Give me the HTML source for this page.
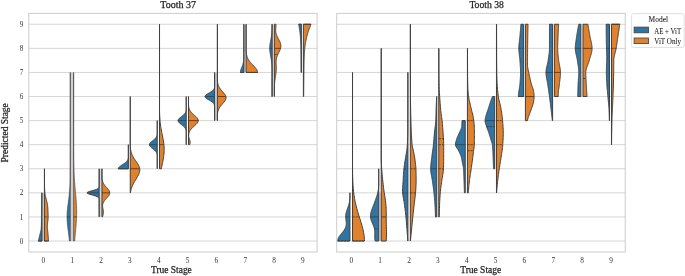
<!DOCTYPE html>
<html><head><meta charset="utf-8"><style>
html,body{margin:0;padding:0;background:#fff;width:685px;height:276px;overflow:hidden}
svg{display:block;will-change:transform}
text{font-family:"Liberation Serif",serif}
</style></head><body>
<svg width="685" height="276" viewBox="0 0 685 276" font-family="Liberation Serif, serif">
<rect width="685" height="276" fill="#fff"/>
<line x1="28.8" y1="241" x2="317.1" y2="241" stroke="#cccccc" stroke-width="0.8"/>
<line x1="28.8" y1="216.92" x2="317.1" y2="216.92" stroke="#cccccc" stroke-width="0.8"/>
<line x1="28.8" y1="192.84" x2="317.1" y2="192.84" stroke="#cccccc" stroke-width="0.8"/>
<line x1="28.8" y1="168.76" x2="317.1" y2="168.76" stroke="#cccccc" stroke-width="0.8"/>
<line x1="28.8" y1="144.68" x2="317.1" y2="144.68" stroke="#cccccc" stroke-width="0.8"/>
<line x1="28.8" y1="120.6" x2="317.1" y2="120.6" stroke="#cccccc" stroke-width="0.8"/>
<line x1="28.8" y1="96.52" x2="317.1" y2="96.52" stroke="#cccccc" stroke-width="0.8"/>
<line x1="28.8" y1="72.44" x2="317.1" y2="72.44" stroke="#cccccc" stroke-width="0.8"/>
<line x1="28.8" y1="48.36" x2="317.1" y2="48.36" stroke="#cccccc" stroke-width="0.8"/>
<line x1="28.8" y1="24.28" x2="317.1" y2="24.28" stroke="#cccccc" stroke-width="0.8"/>
<line x1="336.7" y1="241" x2="625.2" y2="241" stroke="#cccccc" stroke-width="0.8"/>
<line x1="336.7" y1="216.92" x2="625.2" y2="216.92" stroke="#cccccc" stroke-width="0.8"/>
<line x1="336.7" y1="192.84" x2="625.2" y2="192.84" stroke="#cccccc" stroke-width="0.8"/>
<line x1="336.7" y1="168.76" x2="625.2" y2="168.76" stroke="#cccccc" stroke-width="0.8"/>
<line x1="336.7" y1="144.68" x2="625.2" y2="144.68" stroke="#cccccc" stroke-width="0.8"/>
<line x1="336.7" y1="120.6" x2="625.2" y2="120.6" stroke="#cccccc" stroke-width="0.8"/>
<line x1="336.7" y1="96.52" x2="625.2" y2="96.52" stroke="#cccccc" stroke-width="0.8"/>
<line x1="336.7" y1="72.44" x2="625.2" y2="72.44" stroke="#cccccc" stroke-width="0.8"/>
<line x1="336.7" y1="48.36" x2="625.2" y2="48.36" stroke="#cccccc" stroke-width="0.8"/>
<line x1="336.7" y1="24.28" x2="625.2" y2="24.28" stroke="#cccccc" stroke-width="0.8"/>
<rect x="42.02" y="192.84" width="2.4" height="48.16" fill="#d6d6d6"/>
<rect x="70.3" y="72.44" width="3.3" height="168.56" fill="#d0d0d0"/>
<rect x="99.17" y="168.76" width="2.8" height="48.16" fill="#d8d8d8"/>
<rect x="214.6" y="72.44" width="2.8" height="48.16" fill="#d2d2d2"/>
<rect x="243.93" y="24.28" width="2.2" height="48.16" fill="#dadada"/>
<rect x="272.16" y="24.28" width="2.2" height="72.24" fill="#e4e4e4"/>
<rect x="378.73" y="192.84" width="2.5" height="48.16" fill="#d6d6d6"/>
<path d="M38.31 241 L38.42 240.6 L38.53 240.19 L38.63 239.79 L38.74 239.38 L38.84 238.98 L38.94 238.57 L39.05 238.17 L39.15 237.76 L39.25 237.36 L39.35 236.95 L39.45 236.55 L39.55 236.14 L39.65 235.74 L39.75 235.33 L39.84 234.93 L39.94 234.52 L40.04 234.12 L40.13 233.72 L40.23 233.31 L40.32 232.91 L40.42 232.5 L40.51 232.1 L40.61 231.69 L40.72 231.29 L40.83 230.88 L40.94 230.48 L41.04 230.07 L41.12 229.67 L41.18 229.26 L41.22 228.86 L41.25 228.45 L41.28 228.05 L41.3 227.64 L41.32 227.24 L41.34 226.84 L41.36 226.43 L41.37 226.03 L41.39 225.62 L41.4 225.22 L41.4 224.81 L41.41 224.41 L41.42 224 L41.42 223.6 L41.42 223.19 L41.43 222.79 L41.43 222.38 L41.44 221.98 L41.44 221.57 L41.44 221.17 L41.44 220.76 L41.45 220.36 L41.45 219.96 L41.45 219.55 L41.45 219.15 L41.46 218.74 L41.46 218.34 L41.46 217.93 L41.46 217.53 L41.46 217.12 L41.46 216.72 L41.46 216.31 L41.47 215.91 L41.47 215.5 L41.47 215.1 L41.47 214.69 L41.47 214.29 L41.47 213.88 L41.47 213.48 L41.47 213.08 L41.48 212.67 L41.48 212.27 L41.48 211.86 L41.48 211.46 L41.48 211.05 L41.48 210.65 L41.48 210.24 L41.48 209.84 L41.49 209.43 L41.49 209.03 L41.49 208.62 L41.49 208.22 L41.49 207.81 L41.5 207.41 L41.5 207 L41.5 206.6 L41.5 206.2 L41.51 205.79 L41.51 205.39 L41.51 204.98 L41.52 204.58 L41.52 204.17 L41.53 203.77 L41.53 203.36 L41.54 202.96 L41.54 202.55 L41.55 202.15 L41.56 201.74 L41.56 201.34 L41.57 200.93 L41.58 200.53 L41.59 200.12 L41.6 199.72 L41.61 199.32 L41.62 198.91 L41.63 198.51 L41.64 198.1 L41.65 197.7 L41.66 197.29 L41.67 196.89 L41.68 196.48 L41.69 196.08 L41.7 195.67 L41.71 195.27 L41.73 194.86 L41.74 194.46 L41.76 194.05 L41.78 193.65 L41.8 193.24 L41.81 192.84 L42.02 192.84 L42.02 241Z" fill="#3274a1" stroke="#3f3f3f" stroke-width="1.0" stroke-linejoin="round"/>
<line x1="38.31" y1="241" x2="42.02" y2="241" stroke="#3f3f3f" stroke-width="0.9"/>
<path d="M48.52 241 L48.47 240.39 L48.43 239.79 L48.39 239.18 L48.35 238.57 L48.3 237.96 L48.25 237.36 L48.21 236.75 L48.16 236.14 L48.11 235.54 L48.06 234.93 L48.01 234.32 L47.96 233.72 L47.9 233.11 L47.85 232.5 L47.8 231.89 L47.73 231.29 L47.66 230.68 L47.58 230.07 L47.5 229.47 L47.43 228.86 L47.37 228.25 L47.33 227.64 L47.32 227.04 L47.32 226.43 L47.35 225.82 L47.38 225.22 L47.43 224.61 L47.49 224 L47.55 223.4 L47.62 222.79 L47.69 222.18 L47.76 221.57 L47.83 220.97 L47.9 220.36 L47.96 219.75 L48.02 219.15 L48.06 218.54 L48.09 217.93 L48.11 217.32 L48.11 216.72 L48.11 216.11 L48.1 215.5 L48.09 214.9 L48.08 214.29 L48.06 213.68 L48.05 213.08 L48.03 212.47 L48 211.86 L47.98 211.25 L47.96 210.65 L47.93 210.04 L47.9 209.43 L47.87 208.83 L47.83 208.22 L47.79 207.61 L47.74 207 L47.68 206.4 L47.62 205.79 L47.55 205.18 L47.47 204.58 L47.37 203.97 L47.24 203.36 L47.1 202.76 L46.94 202.15 L46.78 201.54 L46.62 200.93 L46.47 200.33 L46.34 199.72 L46.2 199.11 L46.05 198.51 L45.9 197.9 L45.75 197.29 L45.6 196.68 L45.46 196.08 L45.33 195.47 L45.2 194.86 L45.1 194.26 L45.01 193.65 L44.93 193.04 L44.88 192.44 L44.83 191.83 L44.78 191.22 L44.73 190.61 L44.69 190.01 L44.65 189.4 L44.62 188.79 L44.59 188.19 L44.56 187.58 L44.54 186.97 L44.52 186.36 L44.52 185.76 L44.51 185.15 L44.51 184.54 L44.5 183.94 L44.5 183.33 L44.5 182.72 L44.5 182.12 L44.49 181.51 L44.49 180.9 L44.49 180.29 L44.48 179.69 L44.48 179.08 L44.48 178.47 L44.48 177.87 L44.48 177.26 L44.48 176.65 L44.47 176.04 L44.47 175.44 L44.47 174.83 L44.47 174.22 L44.47 173.62 L44.47 173.01 L44.47 172.4 L44.47 171.8 L44.47 171.19 L44.47 170.58 L44.47 169.97 L44.47 169.37 L44.46 168.76 L44.42 168.76 L44.42 241Z" fill="#e1812c" stroke="#3f3f3f" stroke-width="1.0" stroke-linejoin="round"/>
<line x1="44.42" y1="241" x2="48.52" y2="241" stroke="#3f3f3f" stroke-width="0.9" stroke-dasharray="2.2 0.9"/>
<line x1="44.42" y1="216.92" x2="48.11" y2="216.92" stroke="#3f3f3f" stroke-width="0.9" stroke-dasharray="2.2 0.9"/>
<path d="M69.45 241 L69.31 239.58 L69.16 238.17 L69 236.75 L68.82 235.33 L68.64 233.92 L68.46 232.5 L68.27 231.08 L68.08 229.67 L67.89 228.25 L67.72 226.84 L67.55 225.42 L67.41 224 L67.28 222.59 L67.18 221.17 L67.11 219.75 L67.06 218.34 L67.05 216.92 L67.06 215.5 L67.11 214.09 L67.18 212.67 L67.28 211.25 L67.41 209.84 L67.55 208.42 L67.72 207 L67.89 205.59 L68.08 204.17 L68.27 202.76 L68.46 201.34 L68.64 199.92 L68.82 198.51 L69 197.09 L69.16 195.67 L69.31 194.26 L69.45 192.84 L69.57 191.42 L69.68 190.01 L69.78 188.59 L69.86 187.17 L69.93 185.76 L69.99 184.34 L70.04 182.92 L70.09 181.51 L70.12 180.09 L70.15 178.68 L70.17 177.26 L70.19 175.84 L70.2 174.43 L70.21 173.01 L70.22 171.59 L70.23 170.18 L70.23 168.76 L70.24 167.34 L70.24 165.93 L70.24 164.51 L70.24 163.09 L70.24 161.68 L70.24 160.26 L70.24 158.84 L70.24 157.43 L70.24 156.01 L70.24 154.6 L70.24 153.18 L70.24 151.76 L70.24 150.35 L70.24 148.93 L70.24 147.51 L70.24 146.1 L70.24 144.68 L70.24 143.26 L70.24 141.85 L70.24 140.43 L70.24 139.01 L70.24 137.6 L70.24 136.18 L70.24 134.76 L70.24 133.35 L70.24 131.93 L70.24 130.52 L70.24 129.1 L70.24 127.68 L70.24 126.27 L70.24 124.85 L70.24 123.43 L70.24 122.02 L70.24 120.6 L70.24 119.18 L70.24 117.77 L70.24 116.35 L70.24 114.93 L70.24 113.52 L70.24 112.1 L70.24 110.68 L70.24 109.27 L70.24 107.85 L70.24 106.44 L70.24 105.02 L70.24 103.6 L70.24 102.19 L70.24 100.77 L70.24 99.35 L70.25 97.94 L70.25 96.52 L70.25 95.1 L70.25 93.69 L70.25 92.27 L70.25 90.85 L70.25 89.44 L70.25 88.02 L70.25 86.6 L70.25 85.19 L70.25 83.77 L70.25 82.36 L70.25 80.94 L70.25 79.52 L70.25 78.11 L70.25 76.69 L70.25 75.27 L70.25 73.86 L70.25 72.44 L70.3 72.44 L70.3 241Z" fill="#3274a1" stroke="#3f3f3f" stroke-width="0.65" stroke-linejoin="round"/>
<line x1="67.05" y1="216.92" x2="70.3" y2="216.92" stroke="#3f3f3f" stroke-width="0.9"/>
<path d="M74.67 241 L74.78 239.58 L74.9 238.17 L75.02 236.75 L75.15 235.33 L75.27 233.92 L75.4 232.5 L75.54 231.08 L75.66 229.67 L75.79 228.25 L75.92 226.84 L76.03 225.42 L76.15 224 L76.25 222.59 L76.34 221.17 L76.43 219.75 L76.5 218.34 L76.56 216.92 L76.6 215.5 L76.63 214.09 L76.64 212.67 L76.64 211.25 L76.63 209.84 L76.59 208.42 L76.55 207 L76.49 205.59 L76.41 204.17 L76.33 202.76 L76.23 201.34 L76.13 199.92 L76.01 198.51 L75.89 197.09 L75.77 195.67 L75.64 194.26 L75.51 192.84 L75.38 191.42 L75.25 190.01 L75.12 188.59 L75 187.17 L74.88 185.76 L74.76 184.34 L74.65 182.92 L74.55 181.51 L74.45 180.09 L74.36 178.68 L74.28 177.26 L74.2 175.84 L74.13 174.43 L74.07 173.01 L74.01 171.59 L73.96 170.18 L73.91 168.76 L73.87 167.34 L73.84 165.93 L73.81 164.51 L73.78 163.09 L73.76 161.68 L73.74 160.26 L73.72 158.84 L73.71 157.43 L73.7 156.01 L73.69 154.6 L73.68 153.18 L73.67 151.76 L73.67 150.35 L73.66 148.93 L73.66 147.51 L73.66 146.1 L73.65 144.68 L73.65 143.26 L73.65 141.85 L73.65 140.43 L73.65 139.01 L73.65 137.6 L73.65 136.18 L73.65 134.76 L73.65 133.35 L73.65 131.93 L73.65 130.52 L73.65 129.1 L73.65 127.68 L73.65 126.27 L73.65 124.85 L73.65 123.43 L73.65 122.02 L73.65 120.6 L73.65 119.18 L73.65 117.77 L73.65 116.35 L73.65 114.93 L73.65 113.52 L73.65 112.1 L73.65 110.68 L73.65 109.27 L73.65 107.85 L73.65 106.44 L73.65 105.02 L73.65 103.6 L73.65 102.19 L73.65 100.77 L73.65 99.35 L73.65 97.94 L73.65 96.52 L73.65 95.1 L73.65 93.69 L73.65 92.27 L73.65 90.85 L73.65 89.44 L73.65 88.02 L73.65 86.6 L73.65 85.19 L73.65 83.77 L73.65 82.36 L73.65 80.94 L73.65 79.52 L73.65 78.11 L73.65 76.69 L73.65 75.27 L73.65 73.86 L73.65 72.44 L73.59 72.44 L73.59 241Z" fill="#e1812c" stroke="#3f3f3f" stroke-width="0.65" stroke-linejoin="round"/>
<line x1="73.59" y1="216.92" x2="76.56" y2="216.92" stroke="#3f3f3f" stroke-width="0.9"/>
<path d="M99.17 216.92 L99.17 216.52 L99.17 216.11 L99.17 215.71 L99.17 215.3 L99.17 214.9 L99.17 214.49 L99.17 214.09 L99.17 213.68 L99.17 213.28 L99.17 212.87 L99.17 212.47 L99.17 212.06 L99.17 211.66 L99.17 211.25 L99.17 210.85 L99.17 210.44 L99.17 210.04 L99.17 209.64 L99.17 209.23 L99.17 208.83 L99.17 208.42 L99.17 208.02 L99.17 207.61 L99.17 207.21 L99.17 206.8 L99.17 206.4 L99.17 205.99 L99.17 205.59 L99.17 205.18 L99.17 204.78 L99.17 204.37 L99.17 203.97 L99.17 203.56 L99.17 203.16 L99.17 202.76 L99.17 202.35 L99.17 201.95 L99.17 201.54 L99.17 201.14 L99.17 200.73 L99.17 200.33 L99.17 199.92 L99.17 199.52 L99.17 199.11 L99.12 198.71 L98.98 198.3 L98.75 197.9 L98.4 197.49 L97.9 197.09 L97.22 196.68 L96.33 196.28 L95.23 195.88 L93.94 195.47 L92.52 195.07 L91.05 194.66 L89.64 194.26 L88.44 193.85 L87.55 193.45 L87.08 193.04 L87.08 192.64 L87.55 192.23 L88.44 191.83 L89.64 191.42 L91.05 191.02 L92.52 190.61 L93.94 190.21 L95.23 189.8 L96.33 189.4 L97.22 189 L97.9 188.59 L98.4 188.19 L98.75 187.78 L98.98 187.38 L99.12 186.97 L99.17 186.57 L99.17 186.16 L99.17 185.76 L99.17 185.35 L99.17 184.95 L99.17 184.54 L99.17 184.14 L99.17 183.73 L99.17 183.33 L99.17 182.92 L99.17 182.52 L99.17 182.12 L99.17 181.71 L99.17 181.31 L99.17 180.9 L99.17 180.5 L99.17 180.09 L99.17 179.69 L99.17 179.28 L99.17 178.88 L99.17 178.47 L99.17 178.07 L99.17 177.66 L99.17 177.26 L99.17 176.85 L99.17 176.45 L99.17 176.04 L99.17 175.64 L99.17 175.24 L99.17 174.83 L99.17 174.43 L99.17 174.02 L99.17 173.62 L99.17 173.21 L99.17 172.81 L99.17 172.4 L99.17 172 L99.17 171.59 L99.17 171.19 L99.17 170.78 L99.17 170.38 L99.17 169.97 L99.17 169.57 L99.17 169.16 L99.17 168.76 L99.17 168.76 L99.17 216.92Z" fill="#3274a1" stroke="#3f3f3f" stroke-width="1.0" stroke-linejoin="round"/>
<line x1="87.08" y1="192.84" x2="99.17" y2="192.84" stroke="#3f3f3f" stroke-width="0.9"/>
<path d="M102.48 216.92 L102.58 216.52 L102.69 216.11 L102.8 215.71 L102.91 215.3 L103.01 214.9 L103.11 214.49 L103.2 214.09 L103.28 213.68 L103.35 213.28 L103.4 212.87 L103.43 212.47 L103.44 212.06 L103.43 211.66 L103.4 211.25 L103.36 210.85 L103.3 210.44 L103.22 210.04 L103.14 209.64 L103.06 209.23 L102.97 208.83 L102.88 208.42 L102.8 208.02 L102.73 207.61 L102.66 207.21 L102.61 206.8 L102.58 206.4 L102.57 205.99 L102.58 205.59 L102.6 205.18 L102.65 204.78 L102.73 204.37 L102.82 203.97 L102.94 203.56 L103.08 203.16 L103.25 202.76 L103.44 202.35 L103.66 201.95 L103.9 201.54 L104.16 201.14 L104.44 200.73 L104.74 200.33 L105.06 199.92 L105.4 199.52 L105.75 199.11 L106.1 198.71 L106.47 198.3 L106.83 197.9 L107.2 197.49 L107.55 197.09 L107.9 196.68 L108.22 196.28 L108.53 195.88 L108.81 195.47 L109.06 195.07 L109.27 194.66 L109.45 194.26 L109.58 193.85 L109.67 193.45 L109.72 193.04 L109.72 192.64 L109.67 192.23 L109.58 191.83 L109.45 191.42 L109.27 191.02 L109.06 190.61 L108.81 190.21 L108.53 189.8 L108.22 189.4 L107.9 189 L107.55 188.59 L107.2 188.19 L106.83 187.78 L106.47 187.38 L106.1 186.97 L105.74 186.57 L105.39 186.16 L105.06 185.76 L104.74 185.35 L104.43 184.95 L104.14 184.54 L103.88 184.14 L103.63 183.73 L103.4 183.33 L103.2 182.92 L103.01 182.52 L102.84 182.12 L102.69 181.71 L102.56 181.31 L102.45 180.9 L102.35 180.5 L102.26 180.09 L102.19 179.69 L102.12 179.28 L102.07 178.88 L102.02 178.47 L101.99 178.07 L101.97 177.66 L101.97 177.26 L101.97 176.85 L101.97 176.45 L101.97 176.04 L101.97 175.64 L101.97 175.24 L101.97 174.83 L101.97 174.43 L101.97 174.02 L101.97 173.62 L101.97 173.21 L101.97 172.81 L101.97 172.4 L101.97 172 L101.97 171.59 L101.97 171.19 L101.97 170.78 L101.97 170.38 L101.97 169.97 L101.97 169.57 L101.97 169.16 L101.97 168.76 L101.97 168.76 L101.97 216.92Z" fill="#e1812c" stroke="#3f3f3f" stroke-width="1.0" stroke-linejoin="round"/>
<line x1="101.97" y1="192.84" x2="109.72" y2="192.84" stroke="#3f3f3f" stroke-width="0.9"/>
<path d="M118.25 168.76 L118.27 168.56 L118.31 168.36 L118.37 168.15 L118.47 167.95 L118.58 167.75 L118.72 167.55 L118.89 167.34 L119.08 167.14 L119.28 166.94 L119.51 166.74 L119.75 166.53 L120.01 166.33 L120.28 166.13 L120.57 165.93 L120.86 165.72 L121.16 165.52 L121.47 165.32 L121.79 165.12 L122.11 164.92 L122.42 164.71 L122.74 164.51 L123.06 164.31 L123.37 164.11 L123.68 163.9 L123.98 163.7 L124.27 163.5 L124.55 163.3 L124.83 163.09 L125.09 162.89 L125.35 162.69 L125.59 162.49 L125.83 162.28 L126.05 162.08 L126.25 161.88 L126.45 161.68 L126.64 161.48 L126.81 161.27 L126.97 161.07 L127.12 160.87 L127.26 160.67 L127.39 160.46 L127.51 160.26 L127.62 160.06 L127.72 159.86 L127.81 159.65 L127.89 159.45 L127.97 159.25 L128.04 159.05 L128.1 158.84 L128.15 158.64 L128.2 158.44 L128.25 158.24 L128.29 158.04 L128.32 157.83 L128.35 157.63 L128.36 157.43 L128.36 157.23 L128.36 157.02 L128.36 156.82 L128.36 156.62 L128.36 156.42 L128.36 156.21 L128.36 156.01 L128.36 155.81 L128.36 155.61 L128.36 155.4 L128.36 155.2 L128.36 155 L128.36 154.8 L128.36 154.6 L128.36 154.39 L128.36 154.19 L128.36 153.99 L128.36 153.79 L128.36 153.58 L128.36 153.38 L128.36 153.18 L128.36 152.98 L128.36 152.77 L128.36 152.57 L128.36 152.37 L128.36 152.17 L128.36 151.96 L128.36 151.76 L128.36 151.56 L128.36 151.36 L128.36 151.16 L128.36 150.95 L128.36 150.75 L128.36 150.55 L128.36 150.35 L128.36 150.14 L128.36 149.94 L128.36 149.74 L128.36 149.54 L128.36 149.33 L128.36 149.13 L128.36 148.93 L128.36 148.73 L128.36 148.52 L128.36 148.32 L128.36 148.12 L128.36 147.92 L128.36 147.72 L128.36 147.51 L128.36 147.31 L128.36 147.11 L128.36 146.91 L128.36 146.7 L128.36 146.5 L128.36 146.3 L128.36 146.1 L128.36 145.89 L128.36 145.69 L128.36 145.49 L128.36 145.29 L128.36 145.08 L128.36 144.88 L128.36 144.68 L128.36 144.68 L128.36 168.76Z" fill="#3274a1" stroke="#3f3f3f" stroke-width="1.0" stroke-linejoin="round"/>
<line x1="118.25" y1="168.76" x2="128.36" y2="168.76" stroke="#3f3f3f" stroke-width="0.9"/>
<path d="M130.46 192.84 L130.56 192.03 L130.7 191.22 L130.86 190.41 L131.05 189.6 L131.27 188.79 L131.53 187.98 L131.82 187.17 L132.14 186.36 L132.49 185.56 L132.88 184.75 L133.29 183.94 L133.73 183.13 L134.18 182.32 L134.65 181.51 L135.14 180.7 L135.62 179.89 L136.11 179.08 L136.6 178.27 L137.07 177.46 L137.53 176.65 L137.97 175.84 L138.37 175.03 L138.74 174.22 L139.07 173.41 L139.34 172.6 L139.55 171.8 L139.69 170.99 L139.76 170.18 L139.75 169.37 L139.66 168.56 L139.49 167.75 L139.25 166.94 L138.93 166.13 L138.54 165.32 L138.1 164.51 L137.61 163.7 L137.08 162.89 L136.53 162.08 L135.97 161.27 L135.4 160.46 L134.84 159.65 L134.3 158.84 L133.79 158.04 L133.31 157.23 L132.86 156.42 L132.45 155.61 L132.09 154.8 L131.76 153.99 L131.48 153.18 L131.23 152.37 L131.02 151.56 L130.84 150.75 L130.69 149.94 L130.57 149.13 L130.46 148.32 L130.38 147.51 L130.32 146.7 L130.27 145.89 L130.26 145.08 L130.26 144.28 L130.26 143.47 L130.26 142.66 L130.26 141.85 L130.26 141.04 L130.26 140.23 L130.26 139.42 L130.26 138.61 L130.26 137.8 L130.26 136.99 L130.26 136.18 L130.26 135.37 L130.26 134.56 L130.26 133.75 L130.26 132.94 L130.26 132.13 L130.26 131.32 L130.26 130.52 L130.26 129.71 L130.26 128.9 L130.26 128.09 L130.26 127.28 L130.26 126.47 L130.26 125.66 L130.26 124.85 L130.26 124.04 L130.26 123.23 L130.26 122.42 L130.26 121.61 L130.26 120.8 L130.26 119.99 L130.26 119.18 L130.26 118.37 L130.26 117.56 L130.26 116.76 L130.26 115.95 L130.26 115.14 L130.26 114.33 L130.26 113.52 L130.26 112.71 L130.26 111.9 L130.26 111.09 L130.26 110.28 L130.26 109.47 L130.26 108.66 L130.26 107.85 L130.26 107.04 L130.26 106.23 L130.26 105.42 L130.26 104.61 L130.26 103.8 L130.26 103 L130.26 102.19 L130.26 101.38 L130.26 100.57 L130.26 99.76 L130.26 98.95 L130.26 98.14 L130.26 97.33 L130.26 96.52 L130.26 96.52 L130.26 192.84Z" fill="#e1812c" stroke="#3f3f3f" stroke-width="1.0" stroke-linejoin="round"/>
<line x1="130.26" y1="168.76" x2="139.68" y2="168.76" stroke="#3f3f3f" stroke-width="0.9"/>
<path d="M157.24 168.76 L157.24 168.36 L157.24 167.95 L157.24 167.55 L157.24 167.14 L157.24 166.74 L157.24 166.33 L157.24 165.93 L157.24 165.52 L157.24 165.12 L157.24 164.71 L157.24 164.31 L157.24 163.9 L157.24 163.5 L157.24 163.09 L157.24 162.69 L157.24 162.28 L157.24 161.88 L157.24 161.48 L157.24 161.07 L157.24 160.67 L157.24 160.26 L157.24 159.86 L157.24 159.45 L157.24 159.05 L157.24 158.64 L157.24 158.24 L157.24 157.83 L157.24 157.43 L157.24 157.02 L157.24 156.62 L157.24 156.21 L157.24 155.81 L157.24 155.4 L157.21 155 L157.14 154.6 L157.05 154.19 L156.95 153.79 L156.81 153.38 L156.65 152.98 L156.45 152.57 L156.22 152.17 L155.96 151.76 L155.65 151.36 L155.31 150.95 L154.93 150.55 L154.51 150.14 L154.06 149.74 L153.58 149.33 L153.08 148.93 L152.57 148.52 L152.06 148.12 L151.57 147.72 L151.1 147.31 L150.66 146.91 L150.28 146.5 L149.96 146.1 L149.71 145.69 L149.53 145.29 L149.45 144.88 L149.45 144.48 L149.53 144.07 L149.71 143.67 L149.96 143.26 L150.28 142.86 L150.66 142.45 L151.1 142.05 L151.57 141.64 L152.06 141.24 L152.57 140.84 L153.08 140.43 L153.58 140.03 L154.06 139.62 L154.51 139.22 L154.93 138.81 L155.31 138.41 L155.65 138 L155.96 137.6 L156.22 137.19 L156.45 136.79 L156.65 136.38 L156.81 135.98 L156.95 135.57 L157.05 135.17 L157.14 134.76 L157.21 134.36 L157.24 133.96 L157.24 133.55 L157.24 133.15 L157.24 132.74 L157.24 132.34 L157.24 131.93 L157.24 131.53 L157.24 131.12 L157.24 130.72 L157.24 130.31 L157.24 129.91 L157.24 129.5 L157.24 129.1 L157.24 128.69 L157.24 128.29 L157.24 127.88 L157.24 127.48 L157.24 127.08 L157.24 126.67 L157.24 126.27 L157.24 125.86 L157.24 125.46 L157.24 125.05 L157.24 124.65 L157.24 124.24 L157.24 123.84 L157.24 123.43 L157.24 123.03 L157.24 122.62 L157.24 122.22 L157.24 121.81 L157.24 121.41 L157.24 121 L157.24 120.6 L157.24 120.6 L157.24 168.76Z" fill="#3274a1" stroke="#3f3f3f" stroke-width="1.0" stroke-linejoin="round"/>
<line x1="149.45" y1="144.68" x2="157.24" y2="144.68" stroke="#3f3f3f" stroke-width="0.9"/>
<path d="M161.36 168.76 L161.58 167.55 L161.82 166.33 L162.06 165.12 L162.3 163.9 L162.55 162.69 L162.79 161.48 L163.02 160.26 L163.24 159.05 L163.45 157.83 L163.64 156.62 L163.8 155.4 L163.94 154.19 L164.05 152.98 L164.13 151.76 L164.17 150.55 L164.18 149.33 L164.16 148.12 L164.11 146.91 L164.02 145.69 L163.9 144.48 L163.76 143.26 L163.59 142.05 L163.4 140.84 L163.19 139.62 L162.96 138.41 L162.73 137.19 L162.48 135.98 L162.24 134.76 L162 133.55 L161.76 132.34 L161.52 131.12 L161.3 129.91 L161.09 128.69 L160.89 127.48 L160.7 126.27 L160.53 125.05 L160.38 123.84 L160.24 122.62 L160.11 121.41 L160 120.2 L159.9 118.98 L159.82 117.77 L159.74 116.55 L159.68 115.34 L159.62 114.12 L159.58 112.91 L159.54 111.7 L159.53 110.48 L159.53 109.27 L159.53 108.05 L159.53 106.84 L159.53 105.63 L159.53 104.41 L159.53 103.2 L159.53 101.98 L159.53 100.77 L159.53 99.56 L159.53 98.34 L159.53 97.13 L159.53 95.91 L159.53 94.7 L159.53 93.48 L159.53 92.27 L159.53 91.06 L159.53 89.84 L159.53 88.63 L159.53 87.41 L159.53 86.2 L159.53 84.99 L159.53 83.77 L159.53 82.56 L159.53 81.34 L159.53 80.13 L159.53 78.92 L159.53 77.7 L159.53 76.49 L159.53 75.27 L159.53 74.06 L159.53 72.84 L159.53 71.63 L159.53 70.42 L159.53 69.2 L159.53 67.99 L159.53 66.77 L159.53 65.56 L159.53 64.35 L159.53 63.13 L159.53 61.92 L159.53 60.7 L159.53 59.49 L159.53 58.28 L159.53 57.06 L159.53 55.85 L159.53 54.63 L159.53 53.42 L159.53 52.2 L159.53 50.99 L159.53 49.78 L159.53 48.56 L159.53 47.35 L159.53 46.13 L159.53 44.92 L159.53 43.71 L159.53 42.49 L159.53 41.28 L159.53 40.06 L159.53 38.85 L159.53 37.64 L159.53 36.42 L159.53 35.21 L159.53 33.99 L159.53 32.78 L159.53 31.56 L159.53 30.35 L159.53 29.14 L159.53 27.92 L159.53 26.71 L159.53 25.49 L159.53 24.28 L159.53 24.28 L159.53 168.76Z" fill="#e1812c" stroke="#3f3f3f" stroke-width="1.0" stroke-linejoin="round"/>
<line x1="159.53" y1="144.68" x2="163.92" y2="144.68" stroke="#3f3f3f" stroke-width="0.9"/>
<path d="M186.22 144.68 L186.22 144.28 L186.22 143.87 L186.22 143.47 L186.22 143.06 L186.22 142.66 L186.22 142.25 L186.22 141.85 L186.22 141.44 L186.22 141.04 L186.22 140.63 L186.22 140.23 L186.22 139.82 L186.22 139.42 L186.22 139.01 L186.22 138.61 L186.22 138.2 L186.22 137.8 L186.22 137.4 L186.22 136.99 L186.22 136.59 L186.22 136.18 L186.22 135.78 L186.22 135.37 L186.22 134.97 L186.22 134.56 L186.22 134.16 L186.22 133.75 L186.22 133.35 L186.22 132.94 L186.22 132.54 L186.22 132.13 L186.22 131.73 L186.22 131.32 L186.18 130.92 L186.11 130.52 L186.02 130.11 L185.9 129.71 L185.76 129.3 L185.59 128.9 L185.38 128.49 L185.14 128.09 L184.86 127.68 L184.54 127.28 L184.18 126.87 L183.78 126.47 L183.34 126.06 L182.87 125.66 L182.37 125.25 L181.84 124.85 L181.31 124.44 L180.78 124.04 L180.26 123.64 L179.76 123.23 L179.31 122.83 L178.9 122.42 L178.56 122.02 L178.3 121.61 L178.12 121.21 L178.03 120.8 L178.03 120.4 L178.12 119.99 L178.3 119.59 L178.56 119.18 L178.9 118.78 L179.31 118.37 L179.76 117.97 L180.26 117.56 L180.78 117.16 L181.31 116.76 L181.84 116.35 L182.37 115.95 L182.87 115.54 L183.34 115.14 L183.78 114.73 L184.18 114.33 L184.54 113.92 L184.86 113.52 L185.14 113.11 L185.38 112.71 L185.59 112.3 L185.76 111.9 L185.9 111.49 L186.02 111.09 L186.11 110.68 L186.18 110.28 L186.22 109.88 L186.22 109.47 L186.22 109.07 L186.22 108.66 L186.22 108.26 L186.22 107.85 L186.22 107.45 L186.22 107.04 L186.22 106.64 L186.22 106.23 L186.22 105.83 L186.22 105.42 L186.22 105.02 L186.22 104.61 L186.22 104.21 L186.22 103.8 L186.22 103.4 L186.22 103 L186.22 102.59 L186.22 102.19 L186.22 101.78 L186.22 101.38 L186.22 100.97 L186.22 100.57 L186.22 100.16 L186.22 99.76 L186.22 99.35 L186.22 98.95 L186.22 98.54 L186.22 98.14 L186.22 97.73 L186.22 97.33 L186.22 96.92 L186.22 96.52 L186.22 96.52 L186.22 144.68Z" fill="#3274a1" stroke="#3f3f3f" stroke-width="1.0" stroke-linejoin="round"/>
<line x1="178.03" y1="120.6" x2="186.22" y2="120.6" stroke="#3f3f3f" stroke-width="0.9"/>
<path d="M189.64 144.68 L189.78 144.28 L189.91 143.87 L190.02 143.47 L190.1 143.06 L190.15 142.66 L190.17 142.25 L190.15 141.85 L190.1 141.44 L190.01 141.04 L189.91 140.63 L189.78 140.23 L189.64 139.82 L189.49 139.42 L189.34 139.01 L189.2 138.61 L189.07 138.2 L188.96 137.8 L188.86 137.4 L188.79 136.99 L188.73 136.59 L188.69 136.18 L188.67 135.78 L188.67 135.37 L188.69 134.97 L188.72 134.56 L188.77 134.16 L188.84 133.75 L188.93 133.35 L189.03 132.94 L189.15 132.54 L189.29 132.13 L189.46 131.73 L189.64 131.32 L189.85 130.92 L190.08 130.52 L190.34 130.11 L190.62 129.71 L190.93 129.3 L191.27 128.9 L191.63 128.49 L192.01 128.09 L192.42 127.68 L192.84 127.28 L193.28 126.87 L193.73 126.47 L194.18 126.06 L194.64 125.66 L195.1 125.25 L195.54 124.85 L195.97 124.44 L196.38 124.04 L196.77 123.64 L197.12 123.23 L197.43 122.83 L197.7 122.42 L197.92 122.02 L198.09 121.61 L198.2 121.21 L198.26 120.8 L198.26 120.4 L198.2 119.99 L198.09 119.59 L197.92 119.18 L197.7 118.78 L197.43 118.37 L197.12 117.97 L196.77 117.56 L196.38 117.16 L195.97 116.76 L195.54 116.35 L195.1 115.95 L194.64 115.54 L194.18 115.14 L193.73 114.73 L193.28 114.33 L192.84 113.92 L192.42 113.52 L192.01 113.11 L191.63 112.71 L191.27 112.3 L190.93 111.9 L190.62 111.49 L190.34 111.09 L190.08 110.68 L189.85 110.28 L189.64 109.88 L189.45 109.47 L189.29 109.07 L189.15 108.66 L189.02 108.26 L188.91 107.85 L188.82 107.45 L188.74 107.04 L188.67 106.64 L188.62 106.23 L188.57 105.83 L188.53 105.42 L188.52 105.02 L188.52 104.61 L188.52 104.21 L188.52 103.8 L188.52 103.4 L188.52 103 L188.52 102.59 L188.52 102.19 L188.52 101.78 L188.52 101.38 L188.52 100.97 L188.52 100.57 L188.52 100.16 L188.52 99.76 L188.52 99.35 L188.52 98.95 L188.52 98.54 L188.52 98.14 L188.52 97.73 L188.52 97.33 L188.52 96.92 L188.52 96.52 L188.52 96.52 L188.52 144.68Z" fill="#e1812c" stroke="#3f3f3f" stroke-width="1.0" stroke-linejoin="round"/>
<line x1="188.52" y1="120.6" x2="198.26" y2="120.6" stroke="#3f3f3f" stroke-width="0.9"/>
<path d="M214.6 120.6 L214.6 120.2 L214.6 119.79 L214.6 119.39 L214.6 118.98 L214.6 118.58 L214.6 118.17 L214.6 117.77 L214.6 117.36 L214.6 116.96 L214.6 116.55 L214.6 116.15 L214.6 115.74 L214.6 115.34 L214.6 114.93 L214.6 114.53 L214.6 114.12 L214.6 113.72 L214.6 113.32 L214.6 112.91 L214.6 112.51 L214.6 112.1 L214.6 111.7 L214.6 111.29 L214.6 110.89 L214.6 110.48 L214.6 110.08 L214.6 109.67 L214.6 109.27 L214.6 108.86 L214.6 108.46 L214.6 108.05 L214.6 107.65 L214.6 107.24 L214.6 106.84 L214.6 106.44 L214.6 106.03 L214.54 105.63 L214.44 105.22 L214.32 104.82 L214.16 104.41 L213.96 104.01 L213.72 103.6 L213.42 103.2 L213.06 102.79 L212.64 102.39 L212.16 101.98 L211.62 101.58 L211.02 101.17 L210.37 100.77 L209.68 100.36 L208.97 99.96 L208.26 99.56 L207.57 99.15 L206.91 98.75 L206.33 98.34 L205.82 97.94 L205.43 97.53 L205.15 97.13 L205.01 96.72 L205.01 96.32 L205.15 95.91 L205.43 95.51 L205.82 95.1 L206.33 94.7 L206.91 94.29 L207.57 93.89 L208.26 93.48 L208.97 93.08 L209.68 92.68 L210.37 92.27 L211.02 91.87 L211.62 91.46 L212.16 91.06 L212.64 90.65 L213.06 90.25 L213.42 89.84 L213.72 89.44 L213.96 89.03 L214.16 88.63 L214.32 88.22 L214.44 87.82 L214.54 87.41 L214.6 87.01 L214.6 86.6 L214.6 86.2 L214.6 85.8 L214.6 85.39 L214.6 84.99 L214.6 84.58 L214.6 84.18 L214.6 83.77 L214.6 83.37 L214.6 82.96 L214.6 82.56 L214.6 82.15 L214.6 81.75 L214.6 81.34 L214.6 80.94 L214.6 80.53 L214.6 80.13 L214.6 79.72 L214.6 79.32 L214.6 78.92 L214.6 78.51 L214.6 78.11 L214.6 77.7 L214.6 77.3 L214.6 76.89 L214.6 76.49 L214.6 76.08 L214.6 75.68 L214.6 75.27 L214.6 74.87 L214.6 74.46 L214.6 74.06 L214.6 73.65 L214.6 73.25 L214.6 72.84 L214.6 72.44 L214.6 72.44 L214.6 120.6Z" fill="#3274a1" stroke="#3f3f3f" stroke-width="1.0" stroke-linejoin="round"/>
<line x1="205.01" y1="96.52" x2="214.6" y2="96.52" stroke="#3f3f3f" stroke-width="0.9"/>
<path d="M217.4 120.6 L217.4 119.79 L217.4 118.98 L217.4 118.17 L217.4 117.36 L217.4 116.55 L217.4 115.74 L217.4 114.93 L217.46 114.12 L217.55 113.32 L217.68 112.51 L217.84 111.7 L218.05 110.89 L218.32 110.08 L218.64 109.27 L219.04 108.46 L219.51 107.65 L220.04 106.84 L220.64 106.03 L221.3 105.22 L221.99 104.41 L222.71 103.6 L223.42 102.79 L224.1 101.98 L224.71 101.17 L225.24 100.36 L225.65 99.56 L225.92 98.75 L226.04 97.94 L226 97.13 L225.81 96.32 L225.47 95.51 L225 94.7 L224.43 93.89 L223.78 93.08 L223.08 92.27 L222.37 91.46 L221.66 90.65 L220.98 89.84 L220.35 89.03 L219.78 88.22 L219.28 87.41 L218.84 86.6 L218.48 85.8 L218.18 84.99 L217.94 84.18 L217.76 83.37 L217.61 82.56 L217.51 81.75 L217.43 80.94 L217.4 80.13 L217.4 79.32 L217.4 78.51 L217.4 77.7 L217.4 76.89 L217.4 76.08 L217.4 75.27 L217.4 74.46 L217.4 73.65 L217.4 72.84 L217.4 72.04 L217.4 71.23 L217.4 70.42 L217.4 69.61 L217.4 68.8 L217.4 67.99 L217.4 67.18 L217.4 66.37 L217.4 65.56 L217.4 64.75 L217.4 63.94 L217.4 63.13 L217.4 62.32 L217.4 61.51 L217.4 60.7 L217.4 59.89 L217.4 59.08 L217.4 58.28 L217.4 57.47 L217.4 56.66 L217.4 55.85 L217.4 55.04 L217.4 54.23 L217.4 53.42 L217.4 52.61 L217.4 51.8 L217.4 50.99 L217.4 50.18 L217.4 49.37 L217.4 48.56 L217.4 47.75 L217.4 46.94 L217.4 46.13 L217.4 45.32 L217.4 44.52 L217.4 43.71 L217.4 42.9 L217.4 42.09 L217.4 41.28 L217.4 40.47 L217.4 39.66 L217.4 38.85 L217.4 38.04 L217.4 37.23 L217.4 36.42 L217.4 35.61 L217.4 34.8 L217.4 33.99 L217.4 33.18 L217.4 32.37 L217.4 31.56 L217.4 30.76 L217.4 29.95 L217.4 29.14 L217.4 28.33 L217.4 27.52 L217.4 26.71 L217.4 25.9 L217.4 25.09 L217.4 24.28 L217.4 24.28 L217.4 120.6Z" fill="#e1812c" stroke="#3f3f3f" stroke-width="1.0" stroke-linejoin="round"/>
<line x1="217.4" y1="96.52" x2="225.86" y2="96.52" stroke="#3f3f3f" stroke-width="0.9"/>
<path d="M240.43 72.44 L240.44 72.04 L240.47 71.63 L240.53 71.23 L240.61 70.82 L240.7 70.42 L240.82 70.01 L240.95 69.61 L241.09 69.2 L241.25 68.8 L241.41 68.39 L241.57 67.99 L241.74 67.58 L241.91 67.18 L242.07 66.77 L242.23 66.37 L242.39 65.96 L242.54 65.56 L242.67 65.16 L242.8 64.75 L242.92 64.35 L243.03 63.94 L243.13 63.54 L243.22 63.13 L243.29 62.73 L243.36 62.32 L243.42 61.92 L243.47 61.51 L243.52 61.11 L243.56 60.7 L243.59 60.3 L243.61 59.89 L243.64 59.49 L243.65 59.08 L243.67 58.68 L243.68 58.28 L243.69 57.87 L243.7 57.47 L243.7 57.06 L243.71 56.66 L243.71 56.25 L243.72 55.85 L243.72 55.44 L243.72 55.04 L243.72 54.63 L243.72 54.23 L243.72 53.82 L243.72 53.42 L243.72 53.01 L243.72 52.61 L243.72 52.2 L243.72 51.8 L243.72 51.4 L243.72 50.99 L243.72 50.59 L243.72 50.18 L243.72 49.78 L243.72 49.37 L243.72 48.97 L243.72 48.56 L243.72 48.16 L243.72 47.75 L243.72 47.35 L243.72 46.94 L243.72 46.54 L243.72 46.13 L243.72 45.73 L243.72 45.32 L243.72 44.92 L243.72 44.52 L243.72 44.11 L243.72 43.71 L243.72 43.3 L243.72 42.9 L243.72 42.49 L243.72 42.09 L243.72 41.68 L243.72 41.28 L243.72 40.87 L243.72 40.47 L243.72 40.06 L243.72 39.66 L243.72 39.25 L243.72 38.85 L243.72 38.44 L243.72 38.04 L243.72 37.64 L243.72 37.23 L243.72 36.83 L243.72 36.42 L243.72 36.02 L243.72 35.61 L243.72 35.21 L243.72 34.8 L243.72 34.4 L243.72 33.99 L243.73 33.59 L243.73 33.18 L243.73 32.78 L243.73 32.37 L243.73 31.97 L243.73 31.56 L243.73 31.16 L243.73 30.76 L243.73 30.35 L243.73 29.95 L243.73 29.54 L243.73 29.14 L243.73 28.73 L243.73 28.33 L243.73 27.92 L243.73 27.52 L243.73 27.11 L243.73 26.71 L243.73 26.3 L243.73 25.9 L243.73 25.49 L243.73 25.09 L243.73 24.68 L243.73 24.28 L243.93 24.28 L243.93 72.44Z" fill="#3274a1" stroke="#3f3f3f" stroke-width="1.0" stroke-linejoin="round"/>
<line x1="240.43" y1="72.44" x2="243.93" y2="72.44" stroke="#3f3f3f" stroke-width="0.9"/>
<path d="M257.52 72.44 L257.51 72.04 L257.45 71.63 L257.36 71.23 L257.24 70.82 L257.08 70.42 L256.89 70.01 L256.67 69.61 L256.43 69.2 L256.15 68.8 L255.85 68.39 L255.54 67.99 L255.2 67.58 L254.85 67.18 L254.48 66.77 L254.1 66.37 L253.72 65.96 L253.33 65.56 L252.94 65.16 L252.55 64.75 L252.16 64.35 L251.78 63.94 L251.41 63.54 L251.04 63.13 L250.68 62.73 L250.34 62.32 L250.01 61.92 L249.69 61.51 L249.39 61.11 L249.1 60.7 L248.83 60.3 L248.57 59.89 L248.33 59.49 L248.11 59.08 L247.9 58.68 L247.71 58.28 L247.53 57.87 L247.37 57.47 L247.22 57.06 L247.08 56.66 L246.96 56.25 L246.85 55.85 L246.75 55.44 L246.66 55.04 L246.58 54.63 L246.5 54.23 L246.44 53.82 L246.38 53.42 L246.33 53.01 L246.29 52.61 L246.25 52.2 L246.22 51.8 L246.19 51.4 L246.17 50.99 L246.14 50.59 L246.12 50.18 L246.12 49.78 L246.12 49.37 L246.12 48.97 L246.12 48.56 L246.12 48.16 L246.12 47.75 L246.12 47.35 L246.12 46.94 L246.12 46.54 L246.12 46.13 L246.12 45.73 L246.12 45.32 L246.12 44.92 L246.12 44.52 L246.12 44.11 L246.12 43.71 L246.12 43.3 L246.12 42.9 L246.12 42.49 L246.12 42.09 L246.12 41.68 L246.12 41.28 L246.12 40.87 L246.12 40.47 L246.12 40.06 L246.12 39.66 L246.12 39.25 L246.12 38.85 L246.12 38.44 L246.12 38.04 L246.12 37.64 L246.12 37.23 L246.12 36.83 L246.12 36.42 L246.12 36.02 L246.12 35.61 L246.12 35.21 L246.12 34.8 L246.12 34.4 L246.12 33.99 L246.12 33.59 L246.12 33.18 L246.12 32.78 L246.12 32.37 L246.12 31.97 L246.12 31.56 L246.12 31.16 L246.12 30.76 L246.12 30.35 L246.12 29.95 L246.12 29.54 L246.12 29.14 L246.12 28.73 L246.12 28.33 L246.12 27.92 L246.12 27.52 L246.12 27.11 L246.12 26.71 L246.12 26.3 L246.12 25.9 L246.12 25.49 L246.12 25.09 L246.12 24.68 L246.12 24.28 L246.12 24.28 L246.12 72.44Z" fill="#e1812c" stroke="#3f3f3f" stroke-width="1.0" stroke-linejoin="round"/>
<line x1="246.12" y1="72.44" x2="257.52" y2="72.44" stroke="#3f3f3f" stroke-width="0.9"/>
<path d="M271.95 96.52 L271.95 95.91 L271.95 95.31 L271.95 94.7 L271.95 94.09 L271.95 93.48 L271.95 92.88 L271.95 92.27 L271.95 91.66 L271.95 91.06 L271.95 90.45 L271.95 89.84 L271.95 89.24 L271.95 88.63 L271.95 88.02 L271.95 87.41 L271.95 86.81 L271.95 86.2 L271.95 85.59 L271.95 84.99 L271.95 84.38 L271.95 83.77 L271.95 83.16 L271.95 82.56 L271.95 81.95 L271.95 81.34 L271.95 80.74 L271.95 80.13 L271.95 79.52 L271.95 78.92 L271.95 78.31 L271.95 77.7 L271.95 77.09 L271.95 76.49 L271.95 75.88 L271.95 75.27 L271.95 74.67 L271.95 74.06 L271.95 73.45 L271.95 72.84 L271.95 72.24 L271.94 71.63 L271.94 71.02 L271.93 70.42 L271.93 69.81 L271.92 69.2 L271.91 68.6 L271.9 67.99 L271.89 67.38 L271.87 66.77 L271.85 66.17 L271.83 65.56 L271.8 64.95 L271.76 64.35 L271.73 63.74 L271.68 63.13 L271.63 62.52 L271.58 61.92 L271.51 61.31 L271.44 60.7 L271.37 60.1 L271.28 59.49 L271.19 58.88 L271.1 58.28 L271 57.67 L270.89 57.06 L270.78 56.45 L270.67 55.85 L270.56 55.24 L270.45 54.63 L270.34 54.03 L270.23 53.42 L270.14 52.81 L270.05 52.2 L269.97 51.6 L269.9 50.99 L269.84 50.38 L269.8 49.78 L269.77 49.17 L269.76 48.56 L269.76 47.96 L269.78 47.35 L269.81 46.74 L269.86 46.13 L269.92 45.53 L269.99 44.92 L270.07 44.31 L270.17 43.71 L270.27 43.1 L270.37 42.49 L270.48 41.88 L270.59 41.28 L270.71 40.67 L270.82 40.06 L270.93 39.46 L271.03 38.85 L271.13 38.24 L271.22 37.64 L271.31 37.03 L271.39 36.42 L271.47 35.81 L271.54 35.21 L271.6 34.6 L271.65 33.99 L271.7 33.39 L271.74 32.78 L271.78 32.17 L271.81 31.56 L271.83 30.96 L271.86 30.35 L271.88 29.74 L271.89 29.14 L271.9 28.53 L271.91 27.92 L271.92 27.32 L271.93 26.71 L271.94 26.1 L271.94 25.49 L271.94 24.89 L271.95 24.28 L272.16 24.28 L272.16 96.52Z" fill="#3274a1" stroke="#3f3f3f" stroke-width="1.0" stroke-linejoin="round"/>
<line x1="269.76" y1="48.36" x2="272.16" y2="48.36" stroke="#3f3f3f" stroke-width="0.9"/>
<path d="M274.36 96.52 L274.36 95.91 L274.36 95.31 L274.36 94.7 L274.36 94.09 L274.36 93.48 L274.36 92.88 L274.36 92.27 L274.37 91.66 L274.37 91.06 L274.38 90.45 L274.38 89.84 L274.39 89.24 L274.4 88.63 L274.41 88.02 L274.42 87.41 L274.44 86.81 L274.46 86.2 L274.48 85.59 L274.51 84.99 L274.54 84.38 L274.58 83.77 L274.62 83.16 L274.67 82.56 L274.72 81.95 L274.78 81.34 L274.84 80.74 L274.91 80.13 L274.99 79.52 L275.07 78.92 L275.16 78.31 L275.25 77.7 L275.34 77.09 L275.44 76.49 L275.54 75.88 L275.63 75.27 L275.73 74.67 L275.82 74.06 L275.91 73.45 L275.99 72.84 L276.06 72.24 L276.13 71.63 L276.18 71.02 L276.23 70.42 L276.27 69.81 L276.29 69.2 L276.3 68.6 L276.3 67.99 L276.3 67.38 L276.28 66.77 L276.26 66.17 L276.23 65.56 L276.2 64.95 L276.18 64.35 L276.15 63.74 L276.13 63.13 L276.12 62.52 L276.12 61.92 L276.14 61.31 L276.17 60.7 L276.23 60.1 L276.3 59.49 L276.4 58.88 L276.53 58.28 L276.68 57.67 L276.85 57.06 L277.05 56.45 L277.28 55.85 L277.52 55.24 L277.79 54.63 L278.07 54.03 L278.36 53.42 L278.66 52.81 L278.96 52.2 L279.25 51.6 L279.54 50.99 L279.81 50.38 L280.06 49.78 L280.29 49.17 L280.48 48.56 L280.64 47.96 L280.76 47.35 L280.83 46.74 L280.87 46.13 L280.85 45.53 L280.8 44.92 L280.7 44.31 L280.55 43.71 L280.37 43.1 L280.15 42.49 L279.91 41.88 L279.63 41.28 L279.34 40.67 L279.03 40.06 L278.7 39.46 L278.38 38.85 L278.06 38.24 L277.74 37.64 L277.43 37.03 L277.14 36.42 L276.87 35.81 L276.62 35.21 L276.4 34.6 L276.2 33.99 L276.04 33.39 L275.9 32.78 L275.8 32.17 L275.73 31.56 L275.68 30.96 L275.66 30.35 L275.67 29.74 L275.69 29.14 L275.73 28.53 L275.77 27.92 L275.82 27.32 L275.86 26.71 L275.9 26.1 L275.93 25.49 L275.94 24.89 L275.93 24.28 L274.35 24.28 L274.35 96.52Z" fill="#e1812c" stroke="#3f3f3f" stroke-width="1.0" stroke-linejoin="round"/>
<line x1="274.35" y1="54.38" x2="277.9" y2="54.38" stroke="#3f3f3f" stroke-width="0.9" stroke-dasharray="2.2 0.9"/>
<line x1="274.35" y1="48.36" x2="280.53" y2="48.36" stroke="#3f3f3f" stroke-width="0.9"/>
<path d="M301.08 72.44 L301.08 72.04 L301.08 71.63 L301.08 71.23 L301.08 70.82 L301.08 70.42 L301.08 70.01 L301.08 69.61 L301.08 69.2 L301.08 68.8 L301.08 68.39 L301.08 67.99 L301.08 67.58 L301.07 67.18 L301.07 66.77 L301.07 66.37 L301.07 65.96 L301.07 65.56 L301.06 65.16 L301.06 64.75 L301.06 64.35 L301.06 63.94 L301.05 63.54 L301.05 63.13 L301.05 62.73 L301.05 62.32 L301.04 61.92 L301.04 61.51 L301.04 61.11 L301.03 60.7 L301.03 60.3 L301.03 59.89 L301.02 59.49 L301.02 59.08 L301.01 58.68 L301.01 58.28 L301.01 57.87 L301 57.47 L301 57.06 L300.99 56.66 L300.99 56.25 L300.98 55.85 L300.98 55.44 L300.97 55.04 L300.97 54.63 L300.97 54.23 L300.96 53.82 L300.95 53.42 L300.95 53.01 L300.94 52.61 L300.94 52.2 L300.93 51.8 L300.93 51.4 L300.92 50.99 L300.92 50.59 L300.91 50.18 L300.91 49.78 L300.9 49.37 L300.89 48.97 L300.89 48.56 L300.88 48.16 L300.88 47.75 L300.87 47.35 L300.86 46.94 L300.85 46.54 L300.84 46.13 L300.83 45.73 L300.82 45.32 L300.8 44.92 L300.79 44.52 L300.78 44.11 L300.76 43.71 L300.75 43.3 L300.73 42.9 L300.72 42.49 L300.7 42.09 L300.68 41.68 L300.66 41.28 L300.64 40.87 L300.62 40.47 L300.6 40.06 L300.58 39.66 L300.56 39.25 L300.54 38.85 L300.51 38.44 L300.49 38.04 L300.47 37.64 L300.44 37.23 L300.42 36.83 L300.39 36.42 L300.36 36.02 L300.33 35.61 L300.3 35.21 L300.26 34.8 L300.22 34.4 L300.17 33.99 L300.12 33.59 L300.07 33.18 L300.02 32.78 L299.97 32.37 L299.91 31.97 L299.86 31.56 L299.8 31.16 L299.75 30.76 L299.69 30.35 L299.64 29.95 L299.58 29.54 L299.52 29.14 L299.46 28.73 L299.39 28.33 L299.33 27.92 L299.26 27.52 L299.2 27.11 L299.13 26.71 L299.06 26.3 L298.98 25.9 L298.91 25.49 L298.84 25.09 L298.76 24.68 L298.69 24.28 L301.39 24.28 L301.39 72.44Z" fill="#3274a1" stroke="#3f3f3f" stroke-width="1.0" stroke-linejoin="round"/>
<line x1="298.69" y1="24.28" x2="301.39" y2="24.28" stroke="#3f3f3f" stroke-width="0.9"/>
<path d="M303.69 96.52 L303.69 95.91 L303.69 95.31 L303.69 94.7 L303.69 94.09 L303.7 93.48 L303.7 92.88 L303.7 92.27 L303.71 91.66 L303.71 91.06 L303.71 90.45 L303.72 89.84 L303.72 89.24 L303.73 88.63 L303.73 88.02 L303.73 87.41 L303.74 86.81 L303.74 86.2 L303.75 85.59 L303.75 84.99 L303.76 84.38 L303.77 83.77 L303.77 83.16 L303.78 82.56 L303.78 81.95 L303.79 81.34 L303.79 80.74 L303.8 80.13 L303.81 79.52 L303.81 78.92 L303.82 78.31 L303.83 77.7 L303.83 77.09 L303.84 76.49 L303.85 75.88 L303.85 75.27 L303.86 74.67 L303.87 74.06 L303.87 73.45 L303.88 72.84 L303.89 72.24 L303.89 71.63 L303.9 71.02 L303.91 70.42 L303.92 69.81 L303.92 69.2 L303.93 68.6 L303.94 67.99 L303.95 67.38 L303.96 66.77 L303.97 66.17 L303.98 65.56 L303.99 64.95 L304 64.35 L304.01 63.74 L304.02 63.13 L304.04 62.52 L304.05 61.92 L304.06 61.31 L304.08 60.7 L304.09 60.1 L304.11 59.49 L304.13 58.88 L304.15 58.28 L304.17 57.67 L304.19 57.06 L304.22 56.45 L304.24 55.85 L304.27 55.24 L304.3 54.63 L304.33 54.03 L304.37 53.42 L304.4 52.81 L304.44 52.2 L304.48 51.6 L304.52 50.99 L304.56 50.38 L304.61 49.78 L304.66 49.17 L304.72 48.56 L304.79 47.96 L304.86 47.35 L304.94 46.74 L305.02 46.13 L305.11 45.53 L305.19 44.92 L305.29 44.31 L305.38 43.71 L305.49 43.1 L305.59 42.49 L305.7 41.88 L305.82 41.28 L305.94 40.67 L306.06 40.06 L306.18 39.46 L306.31 38.85 L306.44 38.24 L306.57 37.64 L306.71 37.03 L306.85 36.42 L307 35.81 L307.16 35.21 L307.33 34.6 L307.5 33.99 L307.68 33.39 L307.87 32.78 L308.07 32.17 L308.27 31.56 L308.48 30.96 L308.68 30.35 L308.89 29.74 L309.11 29.14 L309.33 28.53 L309.55 27.92 L309.78 27.32 L310.01 26.71 L310.25 26.1 L310.49 25.49 L310.74 24.89 L310.99 24.28 L303.38 24.28 L303.38 96.52Z" fill="#e1812c" stroke="#3f3f3f" stroke-width="1.0" stroke-linejoin="round"/>
<line x1="303.38" y1="24.28" x2="310.99" y2="24.28" stroke="#3f3f3f" stroke-width="0.9"/>
<path d="M337.62 241 L337.63 240.6 L337.67 240.19 L337.74 239.79 L337.83 239.38 L337.96 238.98 L338.1 238.57 L338.28 238.17 L338.47 237.76 L338.69 237.36 L338.93 236.95 L339.19 236.55 L339.46 236.14 L339.75 235.74 L340.05 235.33 L340.36 234.93 L340.67 234.52 L341 234.12 L341.33 233.72 L341.66 233.31 L341.99 232.91 L342.32 232.5 L342.64 232.1 L342.96 231.69 L343.27 231.29 L343.57 230.88 L343.86 230.48 L344.13 230.07 L344.4 229.67 L344.64 229.26 L344.87 228.86 L345.09 228.45 L345.29 228.05 L345.46 227.64 L345.62 227.24 L345.77 226.84 L345.89 226.43 L345.99 226.03 L346.08 225.62 L346.15 225.22 L346.2 224.81 L346.24 224.41 L346.26 224 L346.27 223.6 L346.27 223.19 L346.25 222.79 L346.23 222.38 L346.19 221.98 L346.15 221.57 L346.11 221.17 L346.06 220.76 L346 220.36 L345.95 219.96 L345.9 219.55 L345.85 219.15 L345.8 218.74 L345.76 218.34 L345.73 217.93 L345.7 217.53 L345.68 217.12 L345.67 216.72 L345.67 216.31 L345.68 215.91 L345.7 215.5 L345.73 215.1 L345.77 214.69 L345.83 214.29 L345.89 213.88 L345.97 213.48 L346.05 213.08 L346.15 212.67 L346.25 212.27 L346.36 211.86 L346.48 211.46 L346.61 211.05 L346.74 210.65 L346.88 210.24 L347.02 209.84 L347.17 209.43 L347.31 209.03 L347.46 208.62 L347.61 208.22 L347.76 207.81 L347.9 207.41 L348.04 207 L348.18 206.6 L348.32 206.2 L348.45 205.79 L348.58 205.39 L348.7 204.98 L348.81 204.58 L348.92 204.17 L349.03 203.77 L349.13 203.36 L349.22 202.96 L349.31 202.55 L349.39 202.15 L349.46 201.74 L349.53 201.34 L349.59 200.93 L349.65 200.53 L349.71 200.12 L349.75 199.72 L349.8 199.32 L349.84 198.91 L349.87 198.51 L349.9 198.1 L349.93 197.7 L349.93 197.29 L349.93 196.89 L349.93 196.48 L349.93 196.08 L349.93 195.67 L349.93 195.27 L349.93 194.86 L349.93 194.46 L349.93 194.05 L349.93 193.65 L349.93 193.24 L349.93 192.84 L349.93 192.84 L349.93 241Z" fill="#3274a1" stroke="#3f3f3f" stroke-width="1.0" stroke-linejoin="round"/>
<line x1="337.62" y1="241" x2="349.93" y2="241" stroke="#3f3f3f" stroke-width="0.9" stroke-dasharray="2.2 0.9"/>
<line x1="345.67" y1="216.92" x2="349.93" y2="216.92" stroke="#3f3f3f" stroke-width="0.9" stroke-dasharray="2.2 0.9"/>
<path d="M364.43 241 L364.4 239.58 L364.33 238.17 L364.22 236.75 L364.06 235.33 L363.86 233.92 L363.62 232.5 L363.35 231.08 L363.04 229.67 L362.7 228.25 L362.33 226.84 L361.94 225.42 L361.53 224 L361.1 222.59 L360.67 221.17 L360.22 219.75 L359.77 218.34 L359.32 216.92 L358.87 215.5 L358.43 214.09 L358 212.67 L357.58 211.25 L357.17 209.84 L356.78 208.42 L356.4 207 L356.05 205.59 L355.71 204.17 L355.39 202.76 L355.09 201.34 L354.82 199.92 L354.56 198.51 L354.33 197.09 L354.11 195.67 L353.91 194.26 L353.73 192.84 L353.57 191.42 L353.43 190.01 L353.29 188.59 L353.18 187.17 L353.07 185.76 L352.98 184.34 L352.9 182.92 L352.83 181.51 L352.77 180.09 L352.72 178.68 L352.67 177.26 L352.63 175.84 L352.6 174.43 L352.57 173.01 L352.55 171.59 L352.52 170.18 L352.52 168.76 L352.52 167.34 L352.52 165.93 L352.52 164.51 L352.52 163.09 L352.52 161.68 L352.52 160.26 L352.52 158.84 L352.52 157.43 L352.52 156.01 L352.52 154.6 L352.52 153.18 L352.52 151.76 L352.52 150.35 L352.52 148.93 L352.52 147.51 L352.52 146.1 L352.52 144.68 L352.52 143.26 L352.52 141.85 L352.52 140.43 L352.52 139.01 L352.52 137.6 L352.52 136.18 L352.52 134.76 L352.52 133.35 L352.52 131.93 L352.52 130.52 L352.52 129.1 L352.52 127.68 L352.52 126.27 L352.52 124.85 L352.52 123.43 L352.52 122.02 L352.52 120.6 L352.52 119.18 L352.52 117.77 L352.52 116.35 L352.52 114.93 L352.52 113.52 L352.52 112.1 L352.52 110.68 L352.52 109.27 L352.52 107.85 L352.52 106.44 L352.52 105.02 L352.52 103.6 L352.52 102.19 L352.52 100.77 L352.52 99.35 L352.52 97.94 L352.52 96.52 L352.52 95.1 L352.52 93.69 L352.52 92.27 L352.52 90.85 L352.52 89.44 L352.52 88.02 L352.52 86.6 L352.52 85.19 L352.52 83.77 L352.52 82.36 L352.52 80.94 L352.52 79.52 L352.52 78.11 L352.52 76.69 L352.52 75.27 L352.52 73.86 L352.52 72.44 L352.52 72.44 L352.52 241Z" fill="#e1812c" stroke="#3f3f3f" stroke-width="1.0" stroke-linejoin="round"/>
<line x1="352.52" y1="241" x2="364.43" y2="241" stroke="#3f3f3f" stroke-width="0.9" stroke-dasharray="2.2 0.9"/>
<line x1="352.52" y1="216.92" x2="359.32" y2="216.92" stroke="#3f3f3f" stroke-width="0.9" stroke-dasharray="2.2 0.9"/>
<path d="M375.15 241 L375.03 240.39 L374.92 239.79 L374.84 239.18 L374.78 238.57 L374.74 237.96 L374.71 237.36 L374.69 236.75 L374.69 236.14 L374.7 235.54 L374.72 234.93 L374.73 234.32 L374.75 233.72 L374.76 233.11 L374.76 232.5 L374.75 231.89 L374.72 231.29 L374.68 230.68 L374.61 230.07 L374.52 229.47 L374.41 228.86 L374.27 228.25 L374.1 227.64 L373.92 227.04 L373.71 226.43 L373.49 225.82 L373.24 225.22 L372.99 224.61 L372.73 224 L372.47 223.4 L372.2 222.79 L371.94 222.18 L371.69 221.57 L371.46 220.97 L371.24 220.36 L371.04 219.75 L370.87 219.15 L370.73 218.54 L370.62 217.93 L370.53 217.32 L370.48 216.72 L370.46 216.11 L370.47 215.5 L370.52 214.9 L370.59 214.29 L370.68 213.68 L370.81 213.08 L370.95 212.47 L371.12 211.86 L371.3 211.25 L371.49 210.65 L371.7 210.04 L371.91 209.43 L372.13 208.83 L372.36 208.22 L372.59 207.61 L372.82 207 L373.05 206.4 L373.28 205.79 L373.51 205.18 L373.74 204.58 L373.97 203.97 L374.2 203.36 L374.43 202.76 L374.66 202.15 L374.88 201.54 L375.11 200.93 L375.33 200.33 L375.55 199.72 L375.77 199.11 L375.99 198.51 L376.2 197.9 L376.41 197.29 L376.61 196.68 L376.81 196.08 L377 195.47 L377.18 194.86 L377.35 194.26 L377.51 193.65 L377.66 193.04 L377.81 192.44 L377.94 191.83 L378.05 191.22 L378.16 190.61 L378.26 190.01 L378.35 189.4 L378.43 188.79 L378.5 188.19 L378.56 187.58 L378.61 186.97 L378.66 186.36 L378.69 185.76 L378.73 185.15 L378.73 184.54 L378.73 183.94 L378.73 183.33 L378.73 182.72 L378.73 182.12 L378.73 181.51 L378.73 180.9 L378.73 180.29 L378.73 179.69 L378.73 179.08 L378.73 178.47 L378.73 177.87 L378.73 177.26 L378.73 176.65 L378.73 176.04 L378.73 175.44 L378.73 174.83 L378.73 174.22 L378.73 173.62 L378.73 173.01 L378.73 172.4 L378.73 171.8 L378.73 171.19 L378.73 170.58 L378.73 169.97 L378.73 169.37 L378.73 168.76 L378.73 168.76 L378.73 241Z" fill="#3274a1" stroke="#3f3f3f" stroke-width="1.0" stroke-linejoin="round"/>
<line x1="374.42" y1="228.96" x2="378.73" y2="228.96" stroke="#3f3f3f" stroke-width="0.9" stroke-dasharray="2.2 0.9"/>
<line x1="370.5" y1="216.92" x2="378.73" y2="216.92" stroke="#3f3f3f" stroke-width="0.9"/>
<path d="M386.17 241 L386.33 239.38 L386.45 237.76 L386.51 236.14 L386.54 234.52 L386.54 232.91 L386.51 231.29 L386.47 229.67 L386.42 228.05 L386.37 226.43 L386.33 224.81 L386.29 223.19 L386.26 221.57 L386.25 219.96 L386.24 218.34 L386.24 216.72 L386.24 215.1 L386.24 213.48 L386.23 211.86 L386.2 210.24 L386.15 208.62 L386.07 207 L385.96 205.39 L385.81 203.77 L385.63 202.15 L385.42 200.53 L385.2 198.91 L384.95 197.29 L384.71 195.67 L384.46 194.05 L384.21 192.44 L383.98 190.82 L383.76 189.2 L383.55 187.58 L383.36 185.96 L383.17 184.34 L382.99 182.72 L382.82 181.1 L382.65 179.48 L382.49 177.87 L382.33 176.25 L382.18 174.63 L382.04 173.01 L381.9 171.39 L381.77 169.77 L381.66 168.15 L381.56 166.53 L381.47 164.92 L381.4 163.3 L381.33 161.68 L381.28 160.06 L381.24 158.44 L381.23 156.82 L381.23 155.2 L381.23 153.58 L381.23 151.96 L381.23 150.35 L381.23 148.73 L381.23 147.11 L381.23 145.49 L381.23 143.87 L381.23 142.25 L381.23 140.63 L381.23 139.01 L381.23 137.4 L381.23 135.78 L381.23 134.16 L381.23 132.54 L381.23 130.92 L381.23 129.3 L381.23 127.68 L381.23 126.06 L381.23 124.44 L381.23 122.83 L381.23 121.21 L381.23 119.59 L381.23 117.97 L381.23 116.35 L381.23 114.73 L381.23 113.11 L381.23 111.49 L381.23 109.88 L381.23 108.26 L381.23 106.64 L381.23 105.02 L381.23 103.4 L381.23 101.78 L381.23 100.16 L381.23 98.54 L381.23 96.92 L381.23 95.31 L381.23 93.69 L381.23 92.07 L381.23 90.45 L381.23 88.83 L381.23 87.21 L381.23 85.59 L381.23 83.97 L381.23 82.36 L381.23 80.74 L381.23 79.12 L381.23 77.5 L381.23 75.88 L381.23 74.26 L381.23 72.64 L381.23 71.02 L381.23 69.4 L381.23 67.79 L381.23 66.17 L381.23 64.55 L381.23 62.93 L381.23 61.31 L381.23 59.69 L381.23 58.07 L381.23 56.45 L381.23 54.84 L381.23 53.22 L381.23 51.6 L381.23 49.98 L381.23 48.36 L381.23 48.36 L381.23 241Z" fill="#e1812c" stroke="#3f3f3f" stroke-width="1.0" stroke-linejoin="round"/>
<line x1="381.23" y1="216.92" x2="386.24" y2="216.92" stroke="#3f3f3f" stroke-width="0.9"/>
<path d="M407.83 241 L407.72 239.58 L407.62 238.17 L407.52 236.75 L407.41 235.33 L407.31 233.92 L407.2 232.5 L407.09 231.08 L406.98 229.67 L406.87 228.25 L406.76 226.84 L406.65 225.42 L406.54 224 L406.42 222.59 L406.31 221.17 L406.19 219.75 L406.06 218.34 L405.93 216.92 L405.78 215.5 L405.63 214.09 L405.47 212.67 L405.31 211.25 L405.14 209.84 L404.97 208.42 L404.79 207 L404.61 205.59 L404.43 204.17 L404.21 202.76 L403.97 201.34 L403.71 199.92 L403.45 198.51 L403.2 197.09 L402.97 195.67 L402.78 194.26 L402.63 192.84 L402.54 191.42 L402.53 190.01 L402.6 188.59 L402.7 187.17 L402.79 185.76 L402.89 184.34 L402.99 182.92 L403.08 181.51 L403.16 180.09 L403.23 178.68 L403.3 177.26 L403.36 175.84 L403.45 174.43 L403.55 173.01 L403.66 171.59 L403.79 170.18 L403.93 168.76 L404.08 167.34 L404.27 165.93 L404.47 164.51 L404.67 163.09 L404.89 161.68 L405.12 160.26 L405.36 158.84 L405.61 157.43 L405.85 156.01 L406.1 154.6 L406.35 153.18 L406.58 151.76 L406.77 150.35 L406.94 148.93 L407.1 147.51 L407.23 146.1 L407.32 144.68 L407.4 143.26 L407.46 141.85 L407.53 140.43 L407.58 139.01 L407.63 137.6 L407.67 136.18 L407.7 134.76 L407.72 133.35 L407.73 131.93 L407.74 130.52 L407.75 129.1 L407.75 127.68 L407.76 126.27 L407.76 124.85 L407.77 123.43 L407.77 122.02 L407.77 120.6 L407.78 119.18 L407.78 117.77 L407.78 116.35 L407.79 114.93 L407.79 113.52 L407.79 112.1 L407.79 110.68 L407.79 109.27 L407.8 107.85 L407.8 106.44 L407.8 105.02 L407.8 103.6 L407.8 102.19 L407.81 100.77 L407.81 99.35 L407.81 97.94 L407.81 96.52 L407.81 95.1 L407.81 93.69 L407.82 92.27 L407.82 90.85 L407.82 89.44 L407.82 88.02 L407.82 86.6 L407.82 85.19 L407.82 83.77 L407.82 82.36 L407.82 80.94 L407.82 79.52 L407.82 78.11 L407.82 76.69 L407.82 75.27 L407.82 73.86 L407.83 72.44 L407.93 72.44 L407.93 241Z" fill="#3274a1" stroke="#3f3f3f" stroke-width="1.0" stroke-linejoin="round"/>
<line x1="402.63" y1="192.84" x2="407.93" y2="192.84" stroke="#3f3f3f" stroke-width="0.9" stroke-dasharray="2.2 0.9"/>
<line x1="403.93" y1="168.76" x2="407.93" y2="168.76" stroke="#3f3f3f" stroke-width="0.9" stroke-dasharray="2.2 0.9"/>
<path d="M410.43 241 L410.61 239.18 L410.79 237.36 L410.97 235.54 L411.15 233.72 L411.33 231.89 L411.51 230.07 L411.7 228.25 L411.88 226.43 L412.05 224.61 L412.23 222.79 L412.41 220.97 L412.6 219.15 L412.78 217.32 L412.97 215.5 L413.17 213.68 L413.36 211.86 L413.56 210.04 L413.76 208.22 L413.96 206.4 L414.16 204.58 L414.37 202.76 L414.6 200.93 L414.83 199.11 L415.06 197.29 L415.28 195.47 L415.47 193.65 L415.63 191.83 L415.75 190.01 L415.86 188.19 L415.96 186.36 L416.04 184.54 L416.1 182.72 L416.12 180.9 L416.12 179.08 L416.11 177.26 L416.08 175.44 L416.05 173.62 L416.01 171.8 L415.96 169.97 L415.9 168.15 L415.75 166.33 L415.54 164.51 L415.32 162.69 L415.1 160.87 L414.87 159.05 L414.6 157.23 L414.29 155.4 L413.93 153.58 L413.54 151.76 L413.17 149.94 L412.75 148.12 L412.37 146.3 L412.1 144.48 L411.93 142.66 L411.78 140.84 L411.66 139.01 L411.55 137.19 L411.45 135.37 L411.37 133.55 L411.29 131.73 L411.21 129.91 L411.15 128.09 L411.09 126.27 L411.04 124.44 L410.98 122.62 L410.93 120.8 L410.88 118.98 L410.83 117.16 L410.78 115.34 L410.73 113.52 L410.69 111.7 L410.65 109.88 L410.62 108.05 L410.59 106.23 L410.56 104.41 L410.53 102.59 L410.5 100.77 L410.49 98.95 L410.48 97.13 L410.47 95.31 L410.47 93.48 L410.47 91.66 L410.46 89.84 L410.46 88.02 L410.46 86.2 L410.46 84.38 L410.45 82.56 L410.45 80.74 L410.45 78.92 L410.45 77.09 L410.45 75.27 L410.45 73.45 L410.44 71.63 L410.44 69.81 L410.44 67.99 L410.44 66.17 L410.44 64.35 L410.44 62.52 L410.44 60.7 L410.43 58.88 L410.43 57.06 L410.43 55.24 L410.43 53.42 L410.43 51.6 L410.43 49.78 L410.43 47.96 L410.43 46.13 L410.43 44.31 L410.43 42.49 L410.43 40.67 L410.43 38.85 L410.43 37.03 L410.43 35.21 L410.43 33.39 L410.43 31.56 L410.43 29.74 L410.43 27.92 L410.43 26.1 L410.43 24.28 L410.32 24.28 L410.32 241Z" fill="#e1812c" stroke="#3f3f3f" stroke-width="1.0" stroke-linejoin="round"/>
<line x1="410.32" y1="192.84" x2="415.54" y2="192.84" stroke="#3f3f3f" stroke-width="0.9" stroke-dasharray="2.2 0.9"/>
<line x1="410.32" y1="168.76" x2="415.92" y2="168.76" stroke="#3f3f3f" stroke-width="0.9" stroke-dasharray="2.2 0.9"/>
<path d="M435.48 216.92 L435.45 215.91 L435.42 214.9 L435.39 213.88 L435.36 212.87 L435.32 211.86 L435.27 210.85 L435.23 209.84 L435.18 208.83 L435.13 207.81 L435.08 206.8 L435.02 205.79 L434.97 204.78 L434.91 203.77 L434.84 202.76 L434.77 201.74 L434.7 200.73 L434.62 199.72 L434.53 198.71 L434.44 197.7 L434.35 196.68 L434.26 195.67 L434.16 194.66 L434.06 193.65 L433.95 192.64 L433.84 191.63 L433.73 190.61 L433.6 189.6 L433.47 188.59 L433.33 187.58 L433.19 186.57 L433.05 185.56 L432.9 184.54 L432.76 183.53 L432.62 182.52 L432.47 181.51 L432.33 180.5 L432.18 179.48 L432 178.47 L431.82 177.46 L431.63 176.45 L431.44 175.44 L431.26 174.43 L431.09 173.41 L430.94 172.4 L430.82 171.39 L430.73 170.38 L430.68 169.37 L430.68 168.36 L430.7 167.34 L430.76 166.33 L430.83 165.32 L430.93 164.31 L431.04 163.3 L431.16 162.28 L431.29 161.27 L431.42 160.26 L431.56 159.25 L431.69 158.24 L431.82 157.23 L431.93 156.21 L432.06 155.2 L432.19 154.19 L432.33 153.18 L432.48 152.17 L432.63 151.16 L432.77 150.14 L432.92 149.13 L433.06 148.12 L433.19 147.11 L433.32 146.1 L433.43 145.08 L433.54 144.07 L433.63 143.06 L433.72 142.05 L433.8 141.04 L433.88 140.03 L433.96 139.01 L434.04 138 L434.11 136.99 L434.19 135.98 L434.27 134.97 L434.36 133.96 L434.45 132.94 L434.55 131.93 L434.66 130.92 L434.78 129.91 L434.91 128.9 L435.04 127.88 L435.17 126.87 L435.3 125.86 L435.42 124.85 L435.53 123.84 L435.63 122.83 L435.71 121.81 L435.77 120.8 L435.81 119.79 L435.84 118.78 L435.87 117.77 L435.9 116.76 L435.93 115.74 L435.95 114.73 L435.97 113.72 L435.99 112.71 L436.02 111.7 L436.05 110.68 L436.08 109.67 L436.11 108.66 L436.15 107.65 L436.19 106.64 L436.23 105.63 L436.27 104.61 L436.32 103.6 L436.37 102.59 L436.41 101.58 L436.46 100.57 L436.51 99.56 L436.57 98.54 L436.62 97.53 L436.68 96.52 L436.77 96.52 L436.77 216.92Z" fill="#3274a1" stroke="#3f3f3f" stroke-width="1.0" stroke-linejoin="round"/>
<line x1="430.68" y1="168.76" x2="436.77" y2="168.76" stroke="#3f3f3f" stroke-width="0.9"/>
<path d="M439.27 216.92 L439.29 215.5 L439.31 214.09 L439.34 212.67 L439.38 211.25 L439.41 209.84 L439.46 208.42 L439.5 207 L439.55 205.59 L439.6 204.17 L439.66 202.76 L439.72 201.34 L439.8 199.92 L439.88 198.51 L439.97 197.09 L440.06 195.67 L440.17 194.26 L440.27 192.84 L440.4 191.42 L440.55 190.01 L440.72 188.59 L440.9 187.17 L441.09 185.76 L441.29 184.34 L441.49 182.92 L441.68 181.51 L441.87 180.09 L442.1 178.68 L442.34 177.26 L442.59 175.84 L442.84 174.43 L443.06 173.01 L443.26 171.59 L443.4 170.18 L443.48 168.76 L443.52 167.34 L443.55 165.93 L443.59 164.51 L443.61 163.09 L443.64 161.68 L443.66 160.26 L443.67 158.84 L443.67 157.43 L443.68 156.01 L443.68 154.6 L443.68 153.18 L443.68 151.76 L443.68 150.35 L443.68 148.93 L443.68 147.51 L443.68 146.1 L443.68 144.68 L443.66 143.26 L443.62 141.85 L443.56 140.43 L443.49 139.01 L443.4 137.6 L443.31 136.18 L443.21 134.76 L443.12 133.35 L443.03 131.93 L442.93 130.52 L442.83 129.1 L442.72 127.68 L442.6 126.27 L442.48 124.85 L442.35 123.43 L442.22 122.02 L442.08 120.6 L441.92 119.18 L441.73 117.77 L441.54 116.35 L441.33 114.93 L441.13 113.52 L440.94 112.1 L440.77 110.68 L440.63 109.27 L440.5 107.85 L440.38 106.44 L440.27 105.02 L440.17 103.6 L440.07 102.19 L439.97 100.77 L439.87 99.35 L439.78 97.94 L439.68 96.52 L439.57 95.1 L439.45 93.69 L439.34 92.27 L439.24 90.85 L439.18 89.44 L439.14 88.02 L439.11 86.6 L439.08 85.19 L439.05 83.77 L439.02 82.36 L439 80.94 L438.98 79.52 L438.97 78.11 L438.95 76.69 L438.94 75.27 L438.93 73.86 L438.93 72.44 L438.92 71.02 L438.91 69.61 L438.91 68.19 L438.91 66.77 L438.9 65.36 L438.9 63.94 L438.89 62.52 L438.89 61.11 L438.89 59.69 L438.88 58.28 L438.88 56.86 L438.88 55.44 L438.88 54.03 L438.88 52.61 L438.88 51.19 L438.88 49.78 L438.88 48.36 L438.77 48.36 L438.77 216.92Z" fill="#e1812c" stroke="#3f3f3f" stroke-width="1.0" stroke-linejoin="round"/>
<line x1="438.77" y1="168.76" x2="443.48" y2="168.76" stroke="#3f3f3f" stroke-width="0.9" stroke-dasharray="2.2 0.9"/>
<line x1="438.77" y1="144.68" x2="443.68" y2="144.68" stroke="#3f3f3f" stroke-width="0.9" stroke-dasharray="2.2 0.9"/>
<line x1="438.77" y1="138.66" x2="443.47" y2="138.66" stroke="#3f3f3f" stroke-width="0.9" stroke-dasharray="2.2 0.9"/>
<path d="M464.43 192.84 L464.41 192.23 L464.39 191.63 L464.37 191.02 L464.35 190.41 L464.33 189.8 L464.31 189.2 L464.29 188.59 L464.28 187.98 L464.26 187.38 L464.24 186.77 L464.21 186.16 L464.19 185.56 L464.17 184.95 L464.15 184.34 L464.13 183.73 L464.11 183.13 L464.09 182.52 L464.07 181.91 L464.04 181.31 L464.02 180.7 L464 180.09 L463.98 179.48 L463.96 178.88 L463.94 178.27 L463.92 177.66 L463.9 177.06 L463.88 176.45 L463.86 175.84 L463.84 175.24 L463.82 174.63 L463.8 174.02 L463.78 173.41 L463.75 172.81 L463.73 172.2 L463.7 171.59 L463.67 170.99 L463.63 170.38 L463.59 169.77 L463.55 169.16 L463.51 168.56 L463.44 167.95 L463.36 167.34 L463.26 166.74 L463.14 166.13 L463.02 165.52 L462.88 164.92 L462.75 164.31 L462.62 163.7 L462.49 163.09 L462.38 162.49 L462.27 161.88 L462.16 161.27 L462.05 160.67 L461.95 160.06 L461.84 159.45 L461.72 158.84 L461.59 158.24 L461.46 157.63 L461.31 157.02 L461.14 156.42 L460.94 155.81 L460.72 155.2 L460.47 154.6 L460.21 153.99 L459.93 153.38 L459.64 152.77 L459.34 152.17 L459.04 151.56 L458.75 150.95 L458.44 150.35 L458.08 149.74 L457.68 149.13 L457.25 148.52 L456.82 147.92 L456.42 147.31 L456.05 146.7 L455.75 146.1 L455.54 145.49 L455.43 144.88 L455.44 144.28 L455.49 143.67 L455.58 143.06 L455.7 142.45 L455.85 141.85 L456.02 141.24 L456.2 140.63 L456.39 140.03 L456.59 139.42 L456.78 138.81 L456.97 138.2 L457.19 137.6 L457.44 136.99 L457.71 136.38 L457.99 135.78 L458.28 135.17 L458.56 134.56 L458.85 133.96 L459.12 133.35 L459.38 132.74 L459.64 132.13 L459.92 131.53 L460.21 130.92 L460.5 130.31 L460.78 129.71 L461.04 129.1 L461.28 128.49 L461.48 127.88 L461.63 127.28 L461.72 126.67 L461.77 126.06 L461.82 125.46 L461.87 124.85 L461.91 124.24 L461.94 123.64 L461.97 123.03 L461.99 122.42 L462.01 121.81 L462.02 121.21 L462.03 120.6 L465.23 120.6 L465.23 192.84Z" fill="#3274a1" stroke="#3f3f3f" stroke-width="1.0" stroke-linejoin="round"/>
<line x1="455.43" y1="144.68" x2="465.23" y2="144.68" stroke="#3f3f3f" stroke-width="0.9"/>
<path d="M468.32 192.84 L468.4 191.63 L468.49 190.41 L468.59 189.2 L468.69 187.98 L468.8 186.77 L468.92 185.56 L469.04 184.34 L469.17 183.13 L469.3 181.91 L469.44 180.7 L469.58 179.48 L469.75 178.27 L469.93 177.06 L470.11 175.84 L470.3 174.63 L470.5 173.41 L470.7 172.2 L470.89 170.99 L471.08 169.77 L471.25 168.56 L471.43 167.34 L471.6 166.13 L471.77 164.92 L471.94 163.7 L472.1 162.49 L472.27 161.27 L472.43 160.06 L472.59 158.84 L472.75 157.63 L472.91 156.42 L473.07 155.2 L473.23 153.99 L473.38 152.77 L473.53 151.56 L473.68 150.35 L473.84 149.13 L474.01 147.92 L474.17 146.7 L474.29 145.49 L474.33 144.28 L474.35 143.06 L474.37 141.85 L474.38 140.63 L474.39 139.42 L474.4 138.2 L474.41 136.99 L474.42 135.78 L474.42 134.56 L474.42 133.35 L474.42 132.13 L474.41 130.92 L474.4 129.71 L474.37 128.49 L474.34 127.28 L474.31 126.06 L474.23 124.85 L474.13 123.64 L474 122.42 L473.85 121.21 L473.68 119.99 L473.51 118.78 L473.33 117.56 L473.1 116.35 L472.84 115.14 L472.55 113.92 L472.24 112.71 L471.92 111.49 L471.6 110.28 L471.29 109.07 L470.99 107.85 L470.72 106.64 L470.44 105.42 L470.16 104.21 L469.87 103 L469.6 101.78 L469.33 100.57 L469.09 99.35 L468.87 98.14 L468.68 96.92 L468.52 95.71 L468.37 94.5 L468.23 93.28 L468.11 92.07 L468.01 90.85 L467.94 89.64 L467.89 88.43 L467.85 87.21 L467.81 86 L467.78 84.78 L467.74 83.57 L467.71 82.36 L467.69 81.14 L467.66 79.93 L467.64 78.71 L467.62 77.5 L467.61 76.28 L467.59 75.07 L467.58 73.86 L467.58 72.64 L467.57 71.43 L467.57 70.21 L467.56 69 L467.56 67.79 L467.55 66.57 L467.55 65.36 L467.55 64.14 L467.54 62.93 L467.54 61.72 L467.54 60.5 L467.54 59.29 L467.53 58.07 L467.53 56.86 L467.53 55.64 L467.53 54.43 L467.53 53.22 L467.53 52 L467.53 50.79 L467.53 49.57 L467.52 48.36 L467.43 48.36 L467.43 192.84Z" fill="#e1812c" stroke="#3f3f3f" stroke-width="1.0" stroke-linejoin="round"/>
<line x1="467.43" y1="150.7" x2="473.64" y2="150.7" stroke="#3f3f3f" stroke-width="0.9" stroke-dasharray="2.2 0.9"/>
<line x1="467.43" y1="144.68" x2="474.32" y2="144.68" stroke="#3f3f3f" stroke-width="0.9" stroke-dasharray="2.2 0.9"/>
<line x1="467.43" y1="120.6" x2="473.77" y2="120.6" stroke="#3f3f3f" stroke-width="0.9" stroke-dasharray="2.2 0.9"/>
<path d="M493.48 168.76 L493.46 168.15 L493.45 167.55 L493.43 166.94 L493.42 166.33 L493.4 165.72 L493.38 165.12 L493.36 164.51 L493.35 163.9 L493.33 163.3 L493.31 162.69 L493.28 162.08 L493.26 161.48 L493.24 160.87 L493.22 160.26 L493.19 159.65 L493.17 159.05 L493.15 158.44 L493.12 157.83 L493.1 157.23 L493.07 156.62 L493.05 156.01 L493.02 155.4 L493 154.8 L492.97 154.19 L492.95 153.58 L492.92 152.98 L492.9 152.37 L492.87 151.76 L492.84 151.16 L492.81 150.55 L492.78 149.94 L492.75 149.33 L492.71 148.73 L492.67 148.12 L492.63 147.51 L492.58 146.91 L492.53 146.3 L492.48 145.69 L492.42 145.08 L492.35 144.48 L492.24 143.87 L492.09 143.26 L491.91 142.66 L491.71 142.05 L491.5 141.44 L491.29 140.84 L491.09 140.23 L490.9 139.62 L490.72 139.01 L490.55 138.41 L490.37 137.8 L490.19 137.19 L490.01 136.59 L489.83 135.98 L489.64 135.37 L489.46 134.76 L489.27 134.16 L489.07 133.55 L488.88 132.94 L488.67 132.34 L488.46 131.73 L488.23 131.12 L487.99 130.52 L487.76 129.91 L487.52 129.3 L487.29 128.69 L487.06 128.09 L486.85 127.48 L486.65 126.87 L486.47 126.27 L486.27 125.66 L486.07 125.05 L485.87 124.44 L485.67 123.84 L485.49 123.23 L485.34 122.62 L485.21 122.02 L485.12 121.41 L485.08 120.8 L485.09 120.2 L485.14 119.59 L485.22 118.98 L485.34 118.37 L485.48 117.77 L485.64 117.16 L485.81 116.55 L485.99 115.95 L486.17 115.34 L486.33 114.73 L486.5 114.12 L486.68 113.52 L486.87 112.91 L487.07 112.3 L487.28 111.7 L487.5 111.09 L487.71 110.48 L487.93 109.88 L488.14 109.27 L488.34 108.66 L488.54 108.05 L488.73 107.45 L488.92 106.84 L489.1 106.23 L489.29 105.63 L489.48 105.02 L489.67 104.41 L489.86 103.8 L490.06 103.2 L490.26 102.59 L490.46 101.98 L490.68 101.38 L490.89 100.77 L491.11 100.16 L491.33 99.56 L491.55 98.95 L491.78 98.34 L492.01 97.73 L492.24 97.13 L492.48 96.52 L494.68 96.52 L494.68 168.76Z" fill="#3274a1" stroke="#3f3f3f" stroke-width="1.0" stroke-linejoin="round"/>
<line x1="486.57" y1="126.62" x2="494.68" y2="126.62" stroke="#3f3f3f" stroke-width="0.9" stroke-dasharray="2.2 0.9"/>
<line x1="485.08" y1="120.6" x2="494.68" y2="120.6" stroke="#3f3f3f" stroke-width="0.9"/>
<path d="M496.58 192.84 L496.68 191.42 L496.79 190.01 L496.91 188.59 L497.04 187.17 L497.17 185.76 L497.31 184.34 L497.45 182.92 L497.6 181.51 L497.75 180.09 L497.92 178.68 L498.09 177.26 L498.28 175.84 L498.47 174.43 L498.67 173.01 L498.87 171.59 L499.07 170.18 L499.27 168.76 L499.49 167.34 L499.71 165.93 L499.93 164.51 L500.17 163.09 L500.4 161.68 L500.63 160.26 L500.86 158.84 L501.07 157.43 L501.28 156.01 L501.5 154.6 L501.72 153.18 L501.94 151.76 L502.15 150.35 L502.35 148.93 L502.52 147.51 L502.67 146.1 L502.77 144.68 L502.86 143.26 L502.95 141.85 L503.03 140.43 L503.1 139.01 L503.17 137.6 L503.22 136.18 L503.25 134.76 L503.27 133.35 L503.27 131.93 L503.24 130.52 L503.19 129.1 L503.11 127.68 L503.02 126.27 L502.92 124.85 L502.81 123.43 L502.69 122.02 L502.58 120.6 L502.45 119.18 L502.3 117.77 L502.13 116.35 L501.95 114.93 L501.75 113.52 L501.54 112.1 L501.32 110.68 L501.09 109.27 L500.85 107.85 L500.57 106.44 L500.24 105.02 L499.9 103.6 L499.54 102.19 L499.2 100.77 L498.88 99.35 L498.6 97.94 L498.38 96.52 L498.19 95.1 L498.01 93.69 L497.84 92.27 L497.68 90.85 L497.54 89.44 L497.41 88.02 L497.3 86.6 L497.21 85.19 L497.14 83.77 L497.07 82.36 L497.01 80.94 L496.96 79.52 L496.91 78.11 L496.86 76.69 L496.82 75.27 L496.8 73.86 L496.77 72.44 L496.76 71.02 L496.75 69.61 L496.73 68.19 L496.72 66.77 L496.71 65.36 L496.7 63.94 L496.69 62.52 L496.68 61.11 L496.67 59.69 L496.66 58.28 L496.66 56.86 L496.65 55.44 L496.64 54.03 L496.64 52.61 L496.63 51.19 L496.63 49.78 L496.62 48.36 L496.62 46.94 L496.62 45.53 L496.61 44.11 L496.61 42.69 L496.6 41.28 L496.6 39.86 L496.6 38.44 L496.59 37.03 L496.59 35.61 L496.59 34.2 L496.58 32.78 L496.58 31.36 L496.58 29.95 L496.58 28.53 L496.58 27.11 L496.58 25.7 L496.58 24.28 L496.48 24.28 L496.48 192.84Z" fill="#e1812c" stroke="#3f3f3f" stroke-width="1.0" stroke-linejoin="round"/>
<line x1="496.48" y1="144.68" x2="502.77" y2="144.68" stroke="#3f3f3f" stroke-width="0.9" stroke-dasharray="2.2 0.9"/>
<line x1="496.48" y1="120.6" x2="502.58" y2="120.6" stroke="#3f3f3f" stroke-width="0.9" stroke-dasharray="2.2 0.9"/>
<path d="M518.33 96.52 L518.38 95.91 L518.43 95.31 L518.49 94.7 L518.55 94.09 L518.62 93.48 L518.69 92.88 L518.76 92.27 L518.83 91.66 L518.91 91.06 L519 90.45 L519.1 89.84 L519.21 89.24 L519.32 88.63 L519.43 88.02 L519.53 87.41 L519.63 86.81 L519.73 86.2 L519.81 85.59 L519.88 84.99 L519.93 84.38 L519.98 83.77 L520.03 83.16 L520.07 82.56 L520.12 81.95 L520.16 81.34 L520.2 80.74 L520.24 80.13 L520.28 79.52 L520.32 78.92 L520.35 78.31 L520.38 77.7 L520.41 77.09 L520.44 76.49 L520.46 75.88 L520.48 75.27 L520.5 74.67 L520.51 74.06 L520.52 73.45 L520.52 72.84 L520.52 72.24 L520.52 71.63 L520.51 71.02 L520.5 70.42 L520.48 69.81 L520.46 69.2 L520.43 68.6 L520.41 67.99 L520.38 67.38 L520.34 66.77 L520.31 66.17 L520.27 65.56 L520.23 64.95 L520.19 64.35 L520.15 63.74 L520.11 63.13 L520.07 62.52 L520.03 61.92 L519.98 61.31 L519.94 60.7 L519.9 60.1 L519.86 59.49 L519.8 58.88 L519.74 58.28 L519.68 57.67 L519.61 57.06 L519.53 56.45 L519.46 55.85 L519.38 55.24 L519.31 54.63 L519.24 54.03 L519.16 53.42 L519.1 52.81 L519.04 52.2 L518.98 51.6 L518.93 50.99 L518.89 50.38 L518.86 49.78 L518.84 49.17 L518.83 48.56 L518.83 47.96 L518.84 47.35 L518.86 46.74 L518.89 46.13 L518.93 45.53 L518.98 44.92 L519.04 44.31 L519.09 43.71 L519.16 43.1 L519.23 42.49 L519.3 41.88 L519.37 41.28 L519.44 40.67 L519.52 40.06 L519.59 39.46 L519.66 38.85 L519.73 38.24 L519.8 37.64 L519.86 37.03 L519.92 36.42 L519.97 35.81 L520.02 35.21 L520.07 34.6 L520.13 33.99 L520.18 33.39 L520.23 32.78 L520.28 32.17 L520.33 31.56 L520.38 30.96 L520.43 30.35 L520.48 29.74 L520.53 29.14 L520.58 28.53 L520.63 27.92 L520.68 27.32 L520.73 26.71 L520.78 26.1 L520.83 25.49 L520.88 24.89 L520.93 24.28 L523.62 24.28 L523.62 96.52Z" fill="#3274a1" stroke="#3f3f3f" stroke-width="1.0" stroke-linejoin="round"/>
<line x1="518.33" y1="96.52" x2="523.62" y2="96.52" stroke="#3f3f3f" stroke-width="0.9" stroke-dasharray="2.2 0.9"/>
<line x1="518.83" y1="48.36" x2="523.62" y2="48.36" stroke="#3f3f3f" stroke-width="0.9" stroke-dasharray="2.2 0.9"/>
<path d="M527.43 120.6 L527.61 119.79 L527.81 118.98 L528.03 118.17 L528.28 117.36 L528.55 116.55 L528.84 115.74 L529.15 114.93 L529.45 114.12 L529.75 113.32 L530.05 112.51 L530.36 111.7 L530.67 110.89 L530.98 110.08 L531.28 109.27 L531.56 108.46 L531.85 107.65 L532.14 106.84 L532.44 106.03 L532.72 105.22 L532.97 104.41 L533.2 103.6 L533.38 102.79 L533.52 101.98 L533.66 101.17 L533.78 100.36 L533.9 99.56 L534 98.75 L534.07 97.94 L534.11 97.13 L534.12 96.32 L534.1 95.51 L534.04 94.7 L533.95 93.89 L533.84 93.08 L533.72 92.27 L533.59 91.46 L533.45 90.65 L533.29 89.84 L533.07 89.03 L532.81 88.22 L532.52 87.41 L532.23 86.6 L531.94 85.8 L531.67 84.99 L531.44 84.18 L531.23 83.37 L531.01 82.56 L530.8 81.75 L530.6 80.94 L530.4 80.13 L530.21 79.32 L530.01 78.51 L529.83 77.7 L529.65 76.89 L529.47 76.08 L529.29 75.27 L529.13 74.46 L528.96 73.65 L528.8 72.84 L528.65 72.04 L528.47 71.23 L528.29 70.42 L528.12 69.61 L527.95 68.8 L527.79 67.99 L527.67 67.18 L527.58 66.37 L527.53 65.56 L527.53 64.75 L527.53 63.94 L527.53 63.13 L527.53 62.32 L527.53 61.51 L527.54 60.7 L527.54 59.89 L527.54 59.08 L527.55 58.28 L527.55 57.47 L527.56 56.66 L527.56 55.85 L527.57 55.04 L527.58 54.23 L527.58 53.42 L527.59 52.61 L527.6 51.8 L527.6 50.99 L527.61 50.18 L527.62 49.37 L527.62 48.56 L527.63 47.75 L527.64 46.94 L527.65 46.13 L527.65 45.32 L527.66 44.52 L527.67 43.71 L527.68 42.9 L527.69 42.09 L527.7 41.28 L527.72 40.47 L527.73 39.66 L527.74 38.85 L527.75 38.04 L527.77 37.23 L527.78 36.42 L527.79 35.61 L527.81 34.8 L527.82 33.99 L527.84 33.18 L527.85 32.37 L527.87 31.56 L527.89 30.76 L527.9 29.95 L527.92 29.14 L527.94 28.33 L527.95 27.52 L527.97 26.71 L527.99 25.9 L528.01 25.09 L528.02 24.28 L525.42 24.28 L525.42 120.6Z" fill="#e1812c" stroke="#3f3f3f" stroke-width="1.0" stroke-linejoin="round"/>
<line x1="525.42" y1="96.52" x2="534.12" y2="96.52" stroke="#3f3f3f" stroke-width="0.9"/>
<path d="M552.38 120.6 L552.28 119.79 L552.19 118.98 L552.1 118.17 L552.01 117.36 L551.92 116.55 L551.82 115.74 L551.73 114.93 L551.63 114.12 L551.54 113.32 L551.44 112.51 L551.35 111.7 L551.25 110.89 L551.16 110.08 L551.06 109.27 L550.96 108.46 L550.87 107.65 L550.77 106.84 L550.67 106.03 L550.57 105.22 L550.47 104.41 L550.37 103.6 L550.27 102.79 L550.17 101.98 L550.07 101.17 L549.97 100.36 L549.87 99.56 L549.77 98.75 L549.66 97.94 L549.56 97.13 L549.45 96.32 L549.34 95.51 L549.23 94.7 L549.12 93.89 L549.01 93.08 L548.89 92.27 L548.78 91.46 L548.67 90.65 L548.55 89.84 L548.43 89.03 L548.32 88.22 L548.2 87.41 L548.08 86.6 L547.97 85.8 L547.85 84.99 L547.73 84.18 L547.6 83.37 L547.45 82.56 L547.3 81.75 L547.14 80.94 L546.98 80.13 L546.82 79.32 L546.67 78.51 L546.52 77.7 L546.38 76.89 L546.26 76.08 L546.15 75.27 L546.07 74.46 L546.01 73.65 L545.98 72.84 L545.98 72.04 L546.02 71.23 L546.1 70.42 L546.21 69.61 L546.35 68.8 L546.51 67.99 L546.69 67.18 L546.88 66.37 L547.08 65.56 L547.28 64.75 L547.48 63.94 L547.66 63.13 L547.84 62.32 L548 61.51 L548.13 60.7 L548.24 59.89 L548.36 59.08 L548.48 58.28 L548.6 57.47 L548.72 56.66 L548.83 55.85 L548.94 55.04 L549.05 54.23 L549.15 53.42 L549.24 52.61 L549.31 51.8 L549.38 50.99 L549.43 50.18 L549.46 49.37 L549.47 48.56 L549.48 47.75 L549.48 46.94 L549.48 46.13 L549.48 45.32 L549.48 44.52 L549.48 43.71 L549.48 42.9 L549.48 42.09 L549.48 41.28 L549.48 40.47 L549.48 39.66 L549.48 38.85 L549.48 38.04 L549.48 37.23 L549.48 36.42 L549.48 35.61 L549.48 34.8 L549.48 33.99 L549.48 33.18 L549.48 32.37 L549.48 31.56 L549.48 30.76 L549.48 29.95 L549.48 29.14 L549.48 28.33 L549.48 27.52 L549.48 26.71 L549.48 25.9 L549.48 25.09 L549.48 24.28 L552.58 24.28 L552.58 120.6Z" fill="#3274a1" stroke="#3f3f3f" stroke-width="1.0" stroke-linejoin="round"/>
<line x1="545.98" y1="72.44" x2="552.58" y2="72.44" stroke="#3f3f3f" stroke-width="0.9"/>
<path d="M558.28 96.52 L558.28 95.91 L558.28 95.31 L558.28 94.7 L558.28 94.09 L558.28 93.48 L558.31 92.88 L558.35 92.27 L558.4 91.66 L558.47 91.06 L558.54 90.45 L558.62 89.84 L558.71 89.24 L558.8 88.63 L558.89 88.02 L558.99 87.41 L559.08 86.81 L559.16 86.2 L559.25 85.59 L559.32 84.99 L559.39 84.38 L559.45 83.77 L559.52 83.16 L559.59 82.56 L559.66 81.95 L559.73 81.34 L559.81 80.74 L559.88 80.13 L559.96 79.52 L560.03 78.92 L560.1 78.31 L560.16 77.7 L560.22 77.09 L560.28 76.49 L560.33 75.88 L560.37 75.27 L560.41 74.67 L560.44 74.06 L560.46 73.45 L560.47 72.84 L560.47 72.24 L560.46 71.63 L560.42 71.02 L560.37 70.42 L560.3 69.81 L560.22 69.2 L560.13 68.6 L560.03 67.99 L559.92 67.38 L559.81 66.77 L559.69 66.17 L559.56 65.56 L559.44 64.95 L559.32 64.35 L559.2 63.74 L559.09 63.13 L558.98 62.52 L558.88 61.92 L558.79 61.31 L558.71 60.7 L558.64 60.1 L558.58 59.49 L558.51 58.88 L558.44 58.28 L558.37 57.67 L558.3 57.06 L558.23 56.45 L558.17 55.85 L558.1 55.24 L558.04 54.63 L557.98 54.03 L557.92 53.42 L557.87 52.81 L557.83 52.2 L557.79 51.6 L557.75 50.99 L557.72 50.38 L557.7 49.78 L557.68 49.17 L557.68 48.56 L557.68 47.96 L557.68 47.35 L557.69 46.74 L557.7 46.13 L557.71 45.53 L557.73 44.92 L557.74 44.31 L557.76 43.71 L557.79 43.1 L557.81 42.49 L557.83 41.88 L557.86 41.28 L557.89 40.67 L557.91 40.06 L557.94 39.46 L557.97 38.85 L557.99 38.24 L558.02 37.64 L558.05 37.03 L558.07 36.42 L558.1 35.81 L558.12 35.21 L558.15 34.6 L558.17 33.99 L558.2 33.39 L558.23 32.78 L558.26 32.17 L558.29 31.56 L558.31 30.96 L558.34 30.35 L558.38 29.74 L558.41 29.14 L558.44 28.53 L558.47 27.92 L558.5 27.32 L558.54 26.71 L558.57 26.1 L558.61 25.49 L558.64 24.89 L558.67 24.28 L554.38 24.28 L554.38 96.52Z" fill="#e1812c" stroke="#3f3f3f" stroke-width="1.0" stroke-linejoin="round"/>
<line x1="554.38" y1="72.44" x2="560.47" y2="72.44" stroke="#3f3f3f" stroke-width="0.9"/>
<path d="M577.78 96.52 L577.78 95.91 L577.79 95.31 L577.8 94.7 L577.81 94.09 L577.82 93.48 L577.83 92.88 L577.84 92.27 L577.86 91.66 L577.87 91.06 L577.89 90.45 L577.9 89.84 L577.92 89.24 L577.94 88.63 L577.96 88.02 L577.98 87.41 L578 86.81 L578.02 86.2 L578.04 85.59 L578.06 84.99 L578.08 84.38 L578.1 83.77 L578.13 83.16 L578.17 82.56 L578.21 81.95 L578.25 81.34 L578.3 80.74 L578.35 80.13 L578.39 79.52 L578.44 78.92 L578.49 78.31 L578.54 77.7 L578.58 77.09 L578.62 76.49 L578.66 75.88 L578.69 75.27 L578.72 74.67 L578.75 74.06 L578.76 73.45 L578.77 72.84 L578.77 72.24 L578.76 71.63 L578.74 71.02 L578.71 70.42 L578.67 69.81 L578.61 69.2 L578.55 68.6 L578.49 67.99 L578.41 67.38 L578.33 66.77 L578.25 66.17 L578.16 65.56 L578.07 64.95 L577.98 64.35 L577.88 63.74 L577.79 63.13 L577.69 62.52 L577.6 61.92 L577.51 61.31 L577.42 60.7 L577.33 60.1 L577.23 59.49 L577.12 58.88 L577 58.28 L576.87 57.67 L576.74 57.06 L576.6 56.45 L576.46 55.85 L576.31 55.24 L576.17 54.63 L576.04 54.03 L575.9 53.42 L575.78 52.81 L575.66 52.2 L575.56 51.6 L575.47 50.99 L575.39 50.38 L575.33 49.78 L575.3 49.17 L575.28 48.56 L575.28 47.96 L575.29 47.35 L575.32 46.74 L575.35 46.13 L575.4 45.53 L575.45 44.92 L575.52 44.31 L575.59 43.71 L575.66 43.1 L575.74 42.49 L575.83 41.88 L575.92 41.28 L576.01 40.67 L576.11 40.06 L576.2 39.46 L576.3 38.85 L576.39 38.24 L576.48 37.64 L576.57 37.03 L576.66 36.42 L576.75 35.81 L576.83 35.21 L576.92 34.6 L577.02 33.99 L577.11 33.39 L577.21 32.78 L577.31 32.17 L577.41 31.56 L577.51 30.96 L577.62 30.35 L577.73 29.74 L577.84 29.14 L577.95 28.53 L578.06 27.92 L578.18 27.32 L578.29 26.71 L578.41 26.1 L578.53 25.49 L578.65 24.89 L578.77 24.28 L580.88 24.28 L580.88 96.52Z" fill="#3274a1" stroke="#3f3f3f" stroke-width="1.0" stroke-linejoin="round"/>
<line x1="575.28" y1="48.36" x2="580.88" y2="48.36" stroke="#3f3f3f" stroke-width="0.9"/>
<path d="M587.08 96.52 L587.03 95.91 L586.98 95.31 L586.93 94.7 L586.89 94.09 L586.84 93.48 L586.8 92.88 L586.76 92.27 L586.71 91.66 L586.67 91.06 L586.63 90.45 L586.59 89.84 L586.55 89.24 L586.51 88.63 L586.47 88.02 L586.44 87.41 L586.4 86.81 L586.37 86.2 L586.33 85.59 L586.3 84.99 L586.27 84.38 L586.24 83.77 L586.21 83.16 L586.17 82.56 L586.14 81.95 L586.1 81.34 L586.07 80.74 L586.04 80.13 L586 79.52 L585.97 78.92 L585.94 78.31 L585.91 77.7 L585.88 77.09 L585.86 76.49 L585.84 75.88 L585.82 75.27 L585.8 74.67 L585.79 74.06 L585.78 73.45 L585.78 72.84 L585.78 72.24 L585.81 71.63 L585.87 71.02 L585.97 70.42 L586.09 69.81 L586.23 69.2 L586.4 68.6 L586.59 67.99 L586.79 67.38 L587.01 66.77 L587.23 66.17 L587.46 65.56 L587.7 64.95 L587.93 64.35 L588.17 63.74 L588.39 63.13 L588.61 62.52 L588.82 61.92 L589.02 61.31 L589.19 60.7 L589.35 60.1 L589.52 59.49 L589.7 58.88 L589.88 58.28 L590.06 57.67 L590.25 57.06 L590.44 56.45 L590.63 55.85 L590.81 55.24 L590.99 54.63 L591.16 54.03 L591.33 53.42 L591.48 52.81 L591.62 52.2 L591.74 51.6 L591.85 50.99 L591.94 50.38 L592.01 49.78 L592.05 49.17 L592.07 48.56 L592.07 47.96 L592.05 47.35 L592 46.74 L591.94 46.13 L591.87 45.53 L591.78 44.92 L591.68 44.31 L591.57 43.71 L591.45 43.1 L591.32 42.49 L591.19 41.88 L591.05 41.28 L590.91 40.67 L590.77 40.06 L590.63 39.46 L590.49 38.85 L590.36 38.24 L590.23 37.64 L590.11 37.03 L589.99 36.42 L589.89 35.81 L589.78 35.21 L589.68 34.6 L589.57 33.99 L589.46 33.39 L589.36 32.78 L589.25 32.17 L589.15 31.56 L589.04 30.96 L588.93 30.35 L588.83 29.74 L588.72 29.14 L588.62 28.53 L588.51 27.92 L588.4 27.32 L588.3 26.71 L588.19 26.1 L588.09 25.49 L587.98 24.89 L587.88 24.28 L582.98 24.28 L582.98 96.52Z" fill="#e1812c" stroke="#3f3f3f" stroke-width="1.0" stroke-linejoin="round"/>
<line x1="582.98" y1="78.46" x2="585.95" y2="78.46" stroke="#3f3f3f" stroke-width="0.9" stroke-dasharray="2.2 0.9"/>
<line x1="582.98" y1="48.36" x2="592.07" y2="48.36" stroke="#3f3f3f" stroke-width="0.9"/>
<path d="M609.38 120.6 L609.37 119.79 L609.36 118.98 L609.35 118.17 L609.33 117.36 L609.31 116.55 L609.28 115.74 L609.25 114.93 L609.23 114.12 L609.19 113.32 L609.16 112.51 L609.12 111.7 L609.09 110.89 L609.05 110.08 L609.01 109.27 L608.97 108.46 L608.92 107.65 L608.87 106.84 L608.81 106.03 L608.74 105.22 L608.67 104.41 L608.59 103.6 L608.51 102.79 L608.42 101.98 L608.34 101.17 L608.25 100.36 L608.17 99.56 L608.09 98.75 L608.01 97.94 L607.93 97.13 L607.86 96.32 L607.79 95.51 L607.71 94.7 L607.64 93.89 L607.56 93.08 L607.49 92.27 L607.41 91.46 L607.34 90.65 L607.27 89.84 L607.2 89.03 L607.13 88.22 L607.07 87.41 L607.01 86.6 L606.95 85.8 L606.9 84.99 L606.86 84.18 L606.81 83.37 L606.77 82.56 L606.72 81.75 L606.67 80.94 L606.63 80.13 L606.58 79.32 L606.54 78.51 L606.51 77.7 L606.47 76.89 L606.44 76.08 L606.42 75.27 L606.4 74.46 L606.38 73.65 L606.38 72.84 L606.38 72.04 L606.38 71.23 L606.4 70.42 L606.42 69.61 L606.44 68.8 L606.47 67.99 L606.5 67.18 L606.53 66.37 L606.56 65.56 L606.59 64.75 L606.63 63.94 L606.66 63.13 L606.69 62.32 L606.72 61.51 L606.74 60.7 L606.76 59.89 L606.77 59.08 L606.77 58.28 L606.77 57.47 L606.76 56.66 L606.75 55.85 L606.72 55.04 L606.69 54.23 L606.66 53.42 L606.63 52.61 L606.59 51.8 L606.56 50.99 L606.53 50.18 L606.5 49.37 L606.48 48.56 L606.46 47.75 L606.44 46.94 L606.43 46.13 L606.41 45.32 L606.4 44.52 L606.38 43.71 L606.37 42.9 L606.35 42.09 L606.34 41.28 L606.33 40.47 L606.32 39.66 L606.31 38.85 L606.3 38.04 L606.29 37.23 L606.28 36.42 L606.27 35.61 L606.26 34.8 L606.25 33.99 L606.24 33.18 L606.23 32.37 L606.23 31.56 L606.22 30.76 L606.21 29.95 L606.2 29.14 L606.2 28.33 L606.19 27.52 L606.19 26.71 L606.18 25.9 L606.18 25.09 L606.17 24.28 L609.48 24.28 L609.48 120.6Z" fill="#3274a1" stroke="#3f3f3f" stroke-width="1.0" stroke-linejoin="round"/>
<line x1="606.48" y1="48.36" x2="609.48" y2="48.36" stroke="#3f3f3f" stroke-width="0.9"/>
<path d="M611.58 144.68 L611.58 143.67 L611.59 142.66 L611.59 141.64 L611.6 140.63 L611.61 139.62 L611.63 138.61 L611.64 137.6 L611.65 136.59 L611.67 135.57 L611.68 134.56 L611.7 133.55 L611.72 132.54 L611.74 131.53 L611.76 130.52 L611.78 129.5 L611.8 128.49 L611.82 127.48 L611.84 126.47 L611.86 125.46 L611.89 124.44 L611.91 123.43 L611.93 122.42 L611.96 121.41 L611.98 120.4 L612.01 119.39 L612.04 118.37 L612.07 117.36 L612.1 116.35 L612.14 115.34 L612.18 114.33 L612.23 113.32 L612.27 112.3 L612.32 111.29 L612.36 110.28 L612.41 109.27 L612.46 108.26 L612.51 107.24 L612.56 106.23 L612.6 105.22 L612.65 104.21 L612.7 103.2 L612.75 102.19 L612.79 101.17 L612.83 100.16 L612.88 99.15 L612.92 98.14 L612.95 97.13 L612.99 96.12 L613.02 95.1 L613.06 94.09 L613.1 93.08 L613.13 92.07 L613.17 91.06 L613.2 90.04 L613.24 89.03 L613.27 88.02 L613.31 87.01 L613.34 86 L613.38 84.99 L613.41 83.97 L613.44 82.96 L613.47 81.95 L613.5 80.94 L613.53 79.93 L613.55 78.92 L613.58 77.9 L613.6 76.89 L613.62 75.88 L613.64 74.87 L613.66 73.86 L613.67 72.84 L613.68 71.83 L613.69 70.82 L613.7 69.81 L613.71 68.8 L613.71 67.79 L613.72 66.77 L613.72 65.76 L613.73 64.75 L613.74 63.74 L613.75 62.73 L613.76 61.72 L613.77 60.7 L613.8 59.69 L613.89 58.68 L614.03 57.67 L614.22 56.66 L614.44 55.64 L614.68 54.63 L614.94 53.62 L615.2 52.61 L615.46 51.6 L615.71 50.59 L615.94 49.57 L616.14 48.56 L616.31 47.55 L616.48 46.54 L616.63 45.53 L616.79 44.52 L616.94 43.5 L617.09 42.49 L617.23 41.48 L617.37 40.47 L617.52 39.46 L617.66 38.44 L617.81 37.43 L617.96 36.42 L618.11 35.41 L618.26 34.4 L618.41 33.39 L618.56 32.37 L618.72 31.36 L618.87 30.35 L619.02 29.34 L619.17 28.33 L619.32 27.32 L619.47 26.3 L619.62 25.29 L619.78 24.28 L611.48 24.28 L611.48 144.68Z" fill="#e1812c" stroke="#3f3f3f" stroke-width="1.0" stroke-linejoin="round"/>
<line x1="611.48" y1="48.36" x2="616.17" y2="48.36" stroke="#3f3f3f" stroke-width="0.9" stroke-dasharray="2.2 0.9"/>
<line x1="611.48" y1="24.28" x2="619.78" y2="24.28" stroke="#3f3f3f" stroke-width="0.9"/>
<rect x="28.8" y="13.4" width="288.3" height="238.6" fill="none" stroke="#cccccc" stroke-width="1"/>
<rect x="336.7" y="13.4" width="288.5" height="238.6" fill="none" stroke="#cccccc" stroke-width="1"/>
<text x="160.3" y="7.7" font-size="10.1" textLength="35.7" lengthAdjust="spacingAndGlyphs" fill="#1c1c1c" stroke="#1c1c1c" stroke-width="0.25">Tooth 37</text>
<text x="469.4" y="7.7" font-size="10.1" textLength="34.5" lengthAdjust="spacingAndGlyphs" fill="#1c1c1c" stroke="#1c1c1c" stroke-width="0.25">Tooth 38</text>
<text x="23.4" y="243.6" font-size="7.2" text-anchor="end" fill="#333333">0</text>
<text x="23.4" y="219.52" font-size="7.2" text-anchor="end" fill="#333333">1</text>
<text x="23.4" y="195.44" font-size="7.2" text-anchor="end" fill="#333333">2</text>
<text x="23.4" y="171.36" font-size="7.2" text-anchor="end" fill="#333333">3</text>
<text x="23.4" y="147.28" font-size="7.2" text-anchor="end" fill="#333333">4</text>
<text x="23.4" y="123.2" font-size="7.2" text-anchor="end" fill="#333333">5</text>
<text x="23.4" y="99.12" font-size="7.2" text-anchor="end" fill="#333333">6</text>
<text x="23.4" y="75.04" font-size="7.2" text-anchor="end" fill="#333333">7</text>
<text x="23.4" y="50.96" font-size="7.2" text-anchor="end" fill="#333333">8</text>
<text x="23.4" y="26.88" font-size="7.2" text-anchor="end" fill="#333333">9</text>
<text x="43.42" y="262.9" font-size="7.3" text-anchor="middle" fill="#333333">0</text>
<text x="72.25" y="262.9" font-size="7.3" text-anchor="middle" fill="#333333">1</text>
<text x="101.08" y="262.9" font-size="7.3" text-anchor="middle" fill="#333333">2</text>
<text x="129.91" y="262.9" font-size="7.3" text-anchor="middle" fill="#333333">3</text>
<text x="158.74" y="262.9" font-size="7.3" text-anchor="middle" fill="#333333">4</text>
<text x="187.56" y="262.9" font-size="7.3" text-anchor="middle" fill="#333333">5</text>
<text x="216.4" y="262.9" font-size="7.3" text-anchor="middle" fill="#333333">6</text>
<text x="245.22" y="262.9" font-size="7.3" text-anchor="middle" fill="#333333">7</text>
<text x="274.06" y="262.9" font-size="7.3" text-anchor="middle" fill="#333333">8</text>
<text x="302.88" y="262.9" font-size="7.3" text-anchor="middle" fill="#333333">9</text>
<text x="351.32" y="262.9" font-size="7.3" text-anchor="middle" fill="#333333">0</text>
<text x="380.18" y="262.9" font-size="7.3" text-anchor="middle" fill="#333333">1</text>
<text x="409.02" y="262.9" font-size="7.3" text-anchor="middle" fill="#333333">2</text>
<text x="437.88" y="262.9" font-size="7.3" text-anchor="middle" fill="#333333">3</text>
<text x="466.72" y="262.9" font-size="7.3" text-anchor="middle" fill="#333333">4</text>
<text x="495.57" y="262.9" font-size="7.3" text-anchor="middle" fill="#333333">5</text>
<text x="524.43" y="262.9" font-size="7.3" text-anchor="middle" fill="#333333">6</text>
<text x="553.28" y="262.9" font-size="7.3" text-anchor="middle" fill="#333333">7</text>
<text x="582.13" y="262.9" font-size="7.3" text-anchor="middle" fill="#333333">8</text>
<text x="610.98" y="262.9" font-size="7.3" text-anchor="middle" fill="#333333">9</text>
<text x="151" y="272.8" font-size="10.2" textLength="40.8" lengthAdjust="spacingAndGlyphs" fill="#1c1c1c" stroke="#1c1c1c" stroke-width="0.25">True Stage</text>
<text x="460.2" y="272.8" font-size="10.2" textLength="41" lengthAdjust="spacingAndGlyphs" fill="#1c1c1c" stroke="#1c1c1c" stroke-width="0.25">True Stage</text>
<text x="0" y="0" font-size="10.2" textLength="59.2" lengthAdjust="spacingAndGlyphs" fill="#1c1c1c" stroke="#1c1c1c" stroke-width="0.25" transform="translate(7.9 162.4) rotate(-90)">Predicted Stage</text>
<rect x="631.6" y="13.6" width="52.6" height="33.8" rx="2" fill="#fff" stroke="#d6d6d6" stroke-width="0.8"/>
<text x="648.6" y="22" font-size="7.8" textLength="19.4" lengthAdjust="spacingAndGlyphs" fill="#1c1c1c" stroke="#1c1c1c" stroke-width="0.08">Model</text>
<rect x="634.1" y="27.1" width="14.5" height="5.7" fill="#3274a1" stroke="#3f3f3f" stroke-width="0.8"/>
<rect x="634.1" y="38" width="14.5" height="5.6" fill="#e1812c" stroke="#3f3f3f" stroke-width="0.8"/>
<text x="654.2" y="33.9" font-size="7.8" textLength="26.9" lengthAdjust="spacingAndGlyphs" fill="#1c1c1c" stroke="#1c1c1c" stroke-width="0.08">AE + ViT</text>
<text x="654.2" y="44.1" font-size="7.6" textLength="26.8" lengthAdjust="spacingAndGlyphs" fill="#1c1c1c" stroke="#1c1c1c" stroke-width="0.08">ViT Only</text>
</svg>
</body></html>
